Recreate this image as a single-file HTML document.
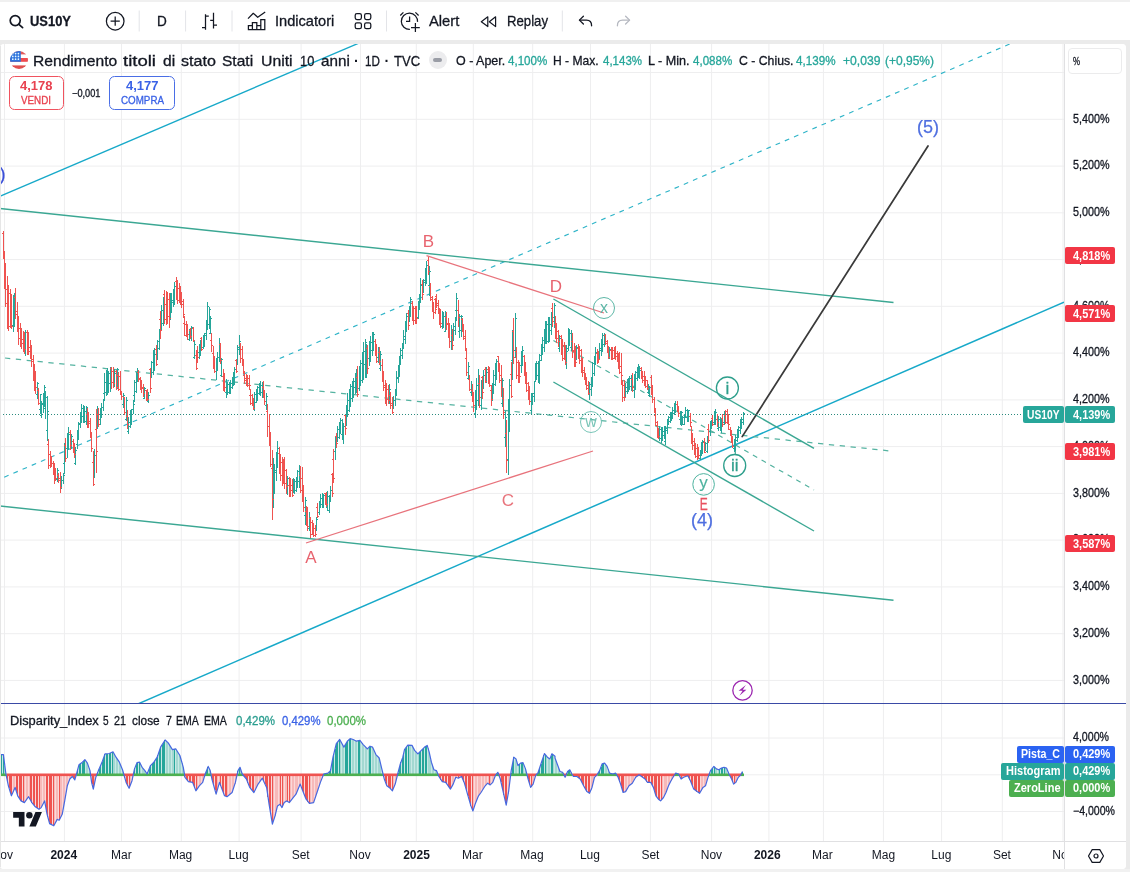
<!DOCTYPE html>
<html lang="it">
<head>
<meta charset="utf-8">
<title>US10Y - Rendimento titoli di stato Stati Uniti 10 anni</title>
<style>
*{box-sizing:border-box;margin:0;padding:0}
html,body{width:1130px;height:872px;overflow:hidden;background:#ebebeb;font-family:"Liberation Sans","DejaVu Sans",sans-serif;color:#131722}
.toolbar{position:absolute;left:0;top:2px;width:1130px;height:38px;background:#fff}
.toolbar .t{position:absolute;top:0;height:38px;line-height:39px;font-size:14.5px;white-space:nowrap;color:#131722;-webkit-text-stroke:0.3px}
.toolbar .sep{position:absolute;top:9px;width:1px;height:21px;background:#e3e4e8}
.toolbar svg{position:absolute}
.chart{position:absolute;left:0;top:43.5px;width:1126px;height:825.8px;background:#fff;border-radius:4px;overflow:hidden}
.tstrip{position:absolute;left:0;top:0;width:1130px;height:2px;background:#f0f0f0}
.lstrip{position:absolute;left:0;top:46px;width:0.9px;height:821px;background:#e6e6e6}
.bstrip{position:absolute;left:0;top:869.3px;width:1130px;height:2.7px;background:#f1f1f1}
.cv{position:absolute;left:0;top:0.5px}
.pscale{position:absolute;left:1064px;top:0;width:62px;height:798px;border-left:1px solid #e0e3eb;background:#fff}
.plab{position:absolute;left:1073px;font-size:12px;line-height:14px;white-space:nowrap;color:#131722;letter-spacing:-0.1px}
.ptag{position:absolute;height:16px;line-height:16px;font-size:12px;font-weight:bold;color:#fff;white-space:nowrap;border-radius:2px;text-align:center;letter-spacing:-0.2px}
.taxis{position:absolute;left:0;top:797.5px;width:1126px;height:28px;border-top:1px solid #e0e3eb;background:#fff}
.tl{position:absolute;top:6px;font-size:12px;line-height:14px;white-space:nowrap;transform:translateX(-50%);color:#131722}
.tl.b{font-weight:bold}
.legend{position:absolute;white-space:nowrap}
.lg{position:absolute;white-space:nowrap;font-size:13px;line-height:16px;top:8.5px}
.g{color:#26a69a}
.btn{position:absolute;top:32.5px;height:33.5px;border-radius:4px;text-align:center;background:#fff}
.btn b{display:block;font-size:13.5px;line-height:15px;margin-top:2.5px}
.btn span{display:block;font-size:10.5px;line-height:12px;letter-spacing:0.1px}
</style>
</head>
<body>
<div class="toolbar">
<svg style="left:0;top:0" width="1130" height="38" viewBox="0 2 1130 38" fill="none" stroke="#131722" stroke-width="1.25">
<g stroke-width="1.7"><circle cx="15.2" cy="20.6" r="5"/><path d="M18.9 24.3L22.6 27.7" stroke-linecap="round"/></g>
<circle cx="115.2" cy="21.2" r="8.8"/><path d="M115.2 16.6V25.8M110.6 21.2H119.8"/>
<path d="M205.5 14.2V29.7M205.5 16H208.8M202 27.5H205.5M213.5 12.8V28.6M210.2 20.4H213.5M213.5 25.2H217"/>
<path d="M248 18.6L253.3 13.3L257.7 17.3L265.2 12" stroke-linejoin="round"/>
<path d="M248.4 29.7V25.5H252.4V29.7M252.4 25.5V22.6H256.8V29.7M256.8 25.5H260.8V29.7M260.8 25.5V19.5H264.8V29.7M247.8 29.7H265.4"/>
<rect x="355.2" y="13.6" width="6.2" height="5.9" rx="1.7"/><rect x="364.6" y="13.6" width="6.2" height="5.9" rx="1.7"/><rect x="355.2" y="22.8" width="6.2" height="5.9" rx="1.7"/><rect x="364.6" y="22.8" width="6.2" height="5.9" rx="1.7"/>
<path d="M417.5 21.9A8.1 8.1 0 1 0 409.9 29.4"/><path d="M409.6 16.4V21.3H406"/><path d="M400.3 15.5L403.4 12.4M415.4 12.4L418.6 15.5"/><path d="M415.4 23.1V31.9M411 27.5H419.8"/>
<g stroke-linejoin="round" stroke-width="1.2"><path d="M487.8 16.8V26.6L481.3 21.7Z"/><path d="M495.6 16.8V26.6L489.3 21.7Z"/></g>
<g stroke-linecap="round" stroke-linejoin="round" stroke-width="1.3"><path d="M583.4 16.2L579.4 20.1L583.4 24"/><path d="M579.8 20.1H586.5Q591.6 20.1 591.6 25.8"/></g>
<g stroke-linecap="round" stroke-linejoin="round" stroke-width="1.3" stroke="#b5b8c0"><path d="M625.6 16.2L629.6 20.1L625.6 24"/><path d="M629.2 20.1H622.5Q617.4 20.1 617.4 25.8"/></g>
<g stroke="#e3e4e8" stroke-width="1"><path d="M139.2 10.5V31.5M185.6 10.5V31.5M232 10.5V31.5M386.5 10.5V31.5M562.3 10.5V31.5"/></g>
</svg>
<span class="t tx" style="left:29.7px;font-weight:bold;font-size:14.5px;transform-origin:0 50%;transform:scaleX(0.8922)">US10Y</span>
<span class="t tx" style="left:157.3px;font-size:14.5px;transform-origin:0 50%;transform:scaleX(0.9347)">D</span>
<span class="t tx" style="left:274.5px;transform-origin:0 50%;transform:scaleX(1.0078)">Indicatori</span>
<span class="t tx" style="left:428.6px;transform-origin:0 50%;transform:scaleX(1.0158)">Alert</span>
<span class="t tx" style="left:507px;transform-origin:0 50%;transform:scaleX(0.9083)">Replay</span>
</div>

<div class="chart">
<svg class="cv" width="1064" height="798" viewBox="0 44 1064 798" font-family="'Liberation Sans', sans-serif">
<path d="M4.5 44V841M64.4 44V841M121.5 44V841M181.3 44V841M239.1 44V841M301.1 44V841M360.5 44V841M416.3 44V841M473.3 44V841M532.7 44V841M590.5 44V841M650.4 44V841M711.6 44V841M768.9 44V841M823.4 44V841M883.4 44V841M941.6 44V841M1002.3 44V841M1063.0 44V841M0 72.5H1064M0 119.3H1064M0 166.1H1064M0 212.8H1064M0 259.6H1064M0 306.3H1064M0 353.1H1064M0 399.9H1064M0 446.6H1064M0 493.4H1064M0 540.1H1064M0 586.9H1064M0 633.7H1064M0 680.4H1064M0 738.0H1064M0 774.8H1064M0 811.5H1064" stroke="#eeeeef" stroke-width="1" fill="none"/>
<g clip-path="url(#mainclip)">
<line x1="-5" y1="198.3" x2="365" y2="40.5" stroke="#17a9c9" stroke-width="1.35" /><line x1="130" y1="707.4" x2="1064" y2="302.2" stroke="#17a9c9" stroke-width="1.5" /><line x1="-5" y1="481.2" x2="1015" y2="41.7" stroke="#2fb4c8" stroke-width="1.15" stroke-dasharray="4.8 5.2" /><line x1="-5" y1="208" x2="893.5" y2="302.5" stroke="#3ba793" stroke-width="1.4" /><line x1="-5" y1="505.5" x2="893.5" y2="600.3" stroke="#3ba793" stroke-width="1.4" /><line x1="5" y1="358" x2="893.5" y2="451.3" stroke="#55b3a1" stroke-width="1.25" stroke-dasharray="5.3 5.6" /><line x1="306" y1="543" x2="593" y2="451" stroke="#e8737c" stroke-width="1.3" /><line x1="426.5" y1="255.6" x2="604" y2="313" stroke="#e8737c" stroke-width="1.3" /><line x1="553.4" y1="299" x2="814" y2="448.4" stroke="#3ba793" stroke-width="1.4" /><line x1="553.4" y1="382" x2="814" y2="531" stroke="#3ba793" stroke-width="1.4" /><line x1="553.4" y1="340.5" x2="814" y2="490" stroke="#4fb09d" stroke-width="1.15" stroke-dasharray="5 5" /><line x1="742.2" y1="436.6" x2="928" y2="146" stroke="#3a3a3a" stroke-width="1.75" stroke-linecap="round"/><line x1="0" y1="414.5" x2="1064" y2="414.5" stroke="#2b8a7e" stroke-width="1" stroke-dasharray="1 2" /><line x1="735.3" y1="445" x2="735.3" y2="455" stroke="#3ba793" stroke-width="1.2" />
<path d="M13.50 295.0V331.5M12.00 325.5H13.50M13.50 303.5H15.00M14.50 293.4V326.9M13.00 317.5H14.50M14.50 297.5H16.00M25.50 330.3V356.2M24.00 347.5H25.50M25.50 332.5H27.00M37.50 382.1V398.9M36.00 394.5H37.50M37.50 383.5H39.00M40.50 393.6V413.5M39.00 409.5H40.50M40.50 394.5H42.00M41.50 400.8V418.2M40.00 415.5H41.50M41.50 403.5H43.00M43.50 392.5V413.0M42.00 404.5H43.50M43.50 396.5H45.00M44.50 384.9V406.5M43.00 402.5H44.50M44.50 387.5H46.00M45.50 391.2V419.3M44.00 408.5H45.50M45.50 397.5H47.00M47.50 396.4V440.9M46.00 430.5H47.50M47.50 411.5H49.00M57.50 467.7V481.5M56.00 479.5H57.50M57.50 470.5H59.00M61.50 476.4V489.3M60.00 487.5H61.50M61.50 480.5H63.00M63.50 472.9V484.4M62.00 480.5H63.50M63.50 475.5H65.00M64.50 443.3V474.4M63.00 463.5H64.50M64.50 452.5H66.00M67.50 433.4V458.2M66.00 448.5H67.50M67.50 439.5H69.00M68.50 427.2V450.1M67.00 441.5H68.50M68.50 434.5H70.00M71.50 433.9V448.6M70.00 443.5H71.50M71.50 436.5H73.00M75.50 446.8V465.1M74.00 463.5H75.50M75.50 450.5H77.00M77.50 429.5V448.8M76.00 444.5H77.50M77.50 433.5H79.00M78.50 421.9V439.8M77.00 437.5H78.50M78.50 424.5H80.00M80.50 412.3V428.2M79.00 423.5H80.50M80.50 417.5H82.00M81.50 404.2V422.8M80.00 418.5H81.50M81.50 408.5H83.00M83.50 404.6V423.2M82.00 416.5H83.50M83.50 409.5H85.00M84.50 406.1V422.5M83.00 418.5H84.50M84.50 411.5H86.00M86.50 406.4V425.3M85.00 421.5H86.50M86.50 407.5H88.00M94.50 448.7V477.5M93.00 472.5H94.50M94.50 455.5H96.00M97.50 406.4V428.7M96.00 421.5H97.50M97.50 409.5H99.00M100.50 407.6V424.8M99.00 419.5H100.50M100.50 408.5H102.00M101.50 402.7V417.9M100.00 416.5H101.50M101.50 407.5H103.00M103.50 399.0V411.3M102.00 407.5H103.50M103.50 399.5H105.00M104.50 373.1V400.5M103.00 393.5H104.50M104.50 382.5H106.00M106.50 370.3V395.5M105.00 392.5H106.50M106.50 372.5H108.00M107.50 368.3V395.0M106.00 390.5H107.50M107.50 372.5H109.00M108.50 370.5V392.5M107.00 390.5H108.50M108.50 373.5H110.00M110.50 366.5V391.6M109.00 383.5H110.50M110.50 371.5H112.00M114.50 369.0V387.3M113.00 381.5H114.50M114.50 373.5H116.00M117.50 367.7V389.2M116.00 386.5H117.50M117.50 369.5H119.00M123.50 392.9V407.6M122.00 404.5H123.50M123.50 395.5H125.00M126.50 396.6V421.0M125.00 419.5H126.50M126.50 400.5H128.00M128.50 416.6V434.0M127.00 431.5H128.50M128.50 422.5H130.00M130.50 410.2V427.5M129.00 426.5H130.50M130.50 415.5H132.00M131.50 408.5V425.1M130.00 419.5H131.50M131.50 409.5H133.00M133.50 400.4V413.8M132.00 409.5H133.50M133.50 404.5H135.00M134.50 379.7V401.9M133.00 395.5H134.50M134.50 382.5H136.00M136.50 372.1V393.4M135.00 391.5H136.50M136.50 378.5H138.00M137.50 368.4V381.9M136.00 378.5H137.50M137.50 371.5H139.00M144.50 387.4V399.4M143.00 398.5H144.50M144.50 388.5H146.00M148.50 391.7V402.7M147.00 401.5H148.50M148.50 395.5H150.00M151.50 360.5V377.6M150.00 375.5H151.50M151.50 362.5H153.00M153.50 349.6V375.1M152.00 372.5H153.50M153.50 354.5H155.00M154.50 347.5V370.5M153.00 365.5H154.50M154.50 354.5H156.00M157.50 339.7V360.3M156.00 357.5H157.50M157.50 341.5H159.00M159.50 328.5V349.7M158.00 348.5H159.50M159.50 334.5H161.00M161.50 304.5V330.4M160.00 320.5H161.50M161.50 310.5H163.00M163.50 296.8V325.8M162.00 323.5H163.50M163.50 299.5H165.00M170.50 293.4V319.9M169.00 309.5H170.50M170.50 295.5H172.00M171.50 293.4V313.4M170.00 307.5H171.50M171.50 300.5H173.00M173.50 289.1V306.8M172.00 302.5H173.50M173.50 292.5H175.00M174.50 282.0V305.3M173.00 296.5H174.50M174.50 286.5H176.00M189.50 329.1V341.2M188.00 339.5H189.50M189.50 331.5H191.00M191.50 326.2V341.2M190.00 336.5H191.50M191.50 327.5H193.00M194.50 340.7V359.0M193.00 357.5H194.50M194.50 344.5H196.00M199.50 343.7V358.7M198.00 352.5H199.50M199.50 347.5H201.00M200.50 340.1V355.7M199.00 351.5H200.50M200.50 342.5H202.00M203.50 334.6V349.3M202.00 347.5H203.50M203.50 338.5H205.00M204.50 333.2V346.8M203.00 341.5H204.50M204.50 335.5H206.00M206.50 320.3V339.8M205.00 333.5H206.50M206.50 322.5H208.00M207.50 301.7V329.9M206.00 326.5H207.50M207.50 306.5H209.00M209.50 307.0V328.7M208.00 324.5H209.50M209.50 309.5H211.00M210.50 315.5V334.4M209.00 333.5H210.50M210.50 318.5H212.00M216.50 358.0V379.6M215.00 371.5H216.50M216.50 359.5H218.00M217.50 352.2V370.6M216.00 364.5H217.50M217.50 357.5H219.00M219.50 337.6V361.8M218.00 357.5H219.50M219.50 345.5H221.00M221.50 358.1V377.1M220.00 375.5H221.50M221.50 359.5H223.00M226.50 378.9V398.1M225.00 392.5H226.50M226.50 385.5H228.00M227.50 381.6V395.3M226.00 393.5H227.50M227.50 384.5H229.00M229.50 382.3V394.3M228.00 392.5H229.50M229.50 384.5H231.00M230.50 379.7V393.7M229.00 389.5H230.50M230.50 383.5H232.00M232.50 377.3V389.3M231.00 387.5H232.50M232.50 379.5H234.00M233.50 371.9V385.6M232.00 383.5H233.50M233.50 375.5H235.00M234.50 367.0V385.4M233.00 380.5H234.50M234.50 369.5H236.00M237.50 344.9V364.9M236.00 360.5H237.50M237.50 347.5H239.00M239.50 335.1V355.3M238.00 349.5H239.50M239.50 341.5H241.00M254.50 391.5V410.7M253.00 408.5H254.50M254.50 394.5H256.00M256.50 388.8V403.1M255.00 402.5H256.50M256.50 389.5H258.00M257.50 386.0V400.8M256.00 399.5H257.50M257.50 387.5H259.00M259.50 383.2V395.4M258.00 393.5H259.50M259.50 387.5H261.00M260.50 381.0V395.5M259.00 392.5H260.50M260.50 385.5H262.00M262.50 381.9V397.5M261.00 392.5H262.50M262.50 383.5H264.00M266.50 393.3V410.2M265.00 405.5H266.50M266.50 396.5H268.00M273.50 457.9V508.2M272.00 498.5H273.50M273.50 473.5H275.00M274.50 464.0V494.3M273.00 488.5H274.50M274.50 470.5H276.00M276.50 452.4V480.8M275.00 472.5H276.50M276.50 461.5H278.00M277.50 440.8V467.8M276.00 466.5H277.50M277.50 448.5H279.00M287.50 475.6V495.1M286.00 490.5H287.50M287.50 478.5H289.00M293.50 477.6V492.6M292.00 487.5H293.50M293.50 479.5H295.00M294.50 480.0V493.9M293.00 488.5H294.50M294.50 481.5H296.00M296.50 476.5V491.5M295.00 490.5H296.50M296.50 478.5H298.00M297.50 469.6V487.5M296.00 480.5H297.50M297.50 471.5H299.00M299.50 464.7V488.4M298.00 481.5H299.50M299.50 468.5H301.00M305.50 497.2V524.5M304.00 515.5H305.50M305.50 500.5H307.00M309.50 512.4V531.3M308.00 528.5H309.50M309.50 517.5H311.00M316.50 516.8V531.2M315.00 527.5H316.50M316.50 519.5H318.00M319.50 500.9V514.7M318.00 512.5H319.50M319.50 502.5H321.00M320.50 493.7V508.1M319.00 504.5H320.50M320.50 498.5H322.00M322.50 493.1V508.4M321.00 504.5H322.50M322.50 496.5H324.00M323.50 494.3V507.8M322.00 505.5H323.50M323.50 495.5H325.00M327.50 490.7V511.4M326.00 507.5H327.50M327.50 496.5H329.00M329.50 494.6V513.0M328.00 510.5H329.50M329.50 498.5H331.00M330.50 486.2V501.8M329.00 499.5H330.50M330.50 490.5H332.00M335.50 437.1V459.7M334.00 451.5H335.50M335.50 442.5H337.00M337.50 425.6V441.9M336.00 436.5H337.50M337.50 429.5H339.00M339.50 421.9V438.8M338.00 437.5H339.50M339.50 427.5H341.00M340.50 418.0V433.9M339.00 427.5H340.50M340.50 420.5H342.00M342.50 419.3V440.2M341.00 434.5H342.50M342.50 424.5H344.00M343.50 423.3V443.9M342.00 438.5H343.50M343.50 426.5H345.00M346.50 404.9V426.3M345.00 423.5H346.50M346.50 406.5H348.00M347.50 393.1V417.0M346.00 410.5H347.50M347.50 400.5H349.00M349.50 389.1V412.3M348.00 410.5H349.50M349.50 395.5H351.00M350.50 383.9V407.2M349.00 405.5H350.50M350.50 386.5H352.00M352.50 381.2V401.8M351.00 398.5H352.50M352.50 388.5H354.00M353.50 378.2V397.9M352.00 396.5H353.50M353.50 381.5H355.00M355.50 373.1V394.1M354.00 387.5H355.50M355.50 377.5H357.00M356.50 368.8V392.7M355.00 384.5H356.50M356.50 371.5H358.00M359.50 366.2V391.4M358.00 388.5H359.50M359.50 371.5H361.00M360.50 359.6V385.9M359.00 375.5H360.50M360.50 363.5H362.00M362.50 351.9V383.0M361.00 380.5H362.50M362.50 359.5H364.00M363.50 342.1V379.7M362.00 367.5H363.50M363.50 351.5H365.00M365.50 339.3V378.4M364.00 364.5H365.50M365.50 342.5H367.00M366.50 344.3V378.4M365.00 373.5H366.50M366.50 355.5H368.00M369.50 340.7V365.5M368.00 358.5H369.50M369.50 344.5H371.00M370.50 335.6V362.4M369.00 354.5H370.50M370.50 342.5H372.00M372.50 332.3V356.2M371.00 350.5H372.50M372.50 334.5H374.00M373.50 331.5V351.0M372.00 348.5H373.50M373.50 334.5H375.00M378.50 347.2V363.2M377.00 357.5H378.50M378.50 348.5H380.00M380.50 351.3V370.8M379.00 368.5H380.50M380.50 354.5H382.00M389.50 383.7V404.3M388.00 400.5H389.50M389.50 389.5H391.00M393.50 395.8V409.3M392.00 406.5H393.50M393.50 400.5H395.00M395.50 388.9V405.7M394.00 400.5H395.50M395.50 394.5H397.00M396.50 371.3V396.1M395.00 390.5H396.50M396.50 377.5H398.00M398.50 365.2V383.0M397.00 378.5H398.50M398.50 368.5H400.00M399.50 355.5V376.6M398.00 372.5H399.50M399.50 361.5H401.00M400.50 348.0V364.8M399.00 363.5H400.50M400.50 350.5H402.00M402.50 344.0V358.8M401.00 355.5H402.50M402.50 347.5H404.00M403.50 329.9V348.9M402.00 343.5H403.50M403.50 336.5H405.00M405.50 320.7V343.7M404.00 339.5H405.50M405.50 323.5H407.00M406.50 312.7V332.3M405.00 326.5H406.50M406.50 316.5H408.00M409.50 305.5V321.5M408.00 319.5H409.50M409.50 308.5H411.00M410.50 297.4V316.7M409.00 309.5H410.50M410.50 299.5H412.00M418.50 301.1V318.5M417.00 317.5H418.50M418.50 302.5H420.00M419.50 293.5V310.3M418.00 308.5H419.50M419.50 295.5H421.00M420.50 277.6V302.6M419.00 300.5H420.50M420.50 285.5H422.00M423.50 278.5V293.2M422.00 288.5H423.50M423.50 280.5H425.00M425.50 268.1V286.3M424.00 282.5H425.50M425.50 273.5H427.00M426.50 261.4V283.6M425.00 281.5H426.50M426.50 265.5H428.00M429.50 266.0V295.5M428.00 285.5H429.50M429.50 271.5H431.00M442.50 311.2V329.0M441.00 326.5H442.50M442.50 315.5H444.00M443.50 311.5V328.1M442.00 323.5H443.50M443.50 316.5H445.00M445.50 311.2V332.3M444.00 331.5H445.50M445.50 313.5H447.00M451.50 324.5V349.9M450.00 341.5H451.50M451.50 332.5H453.00M453.50 323.2V341.3M452.00 338.5H453.50M453.50 326.5H455.00M455.50 317.0V334.6M454.00 330.5H455.50M455.50 318.5H457.00M456.50 293.0V321.0M455.00 310.5H456.50M456.50 298.5H458.00M459.50 314.0V337.8M458.00 331.5H459.50M459.50 316.5H461.00M461.50 314.5V336.7M460.00 330.5H461.50M461.50 316.5H463.00M468.50 362.1V379.8M467.00 378.5H468.50M468.50 366.5H470.00M471.50 381.4V395.5M470.00 392.5H471.50M471.50 384.5H473.00M475.50 390.0V417.5M474.00 413.5H475.50M475.50 391.5H477.00M476.50 377.9V409.9M475.00 404.5H476.50M476.50 385.5H478.00M478.50 369.3V406.2M477.00 400.5H478.50M478.50 375.5H480.00M481.50 380.2V409.6M480.00 405.5H481.50M481.50 385.5H483.00M483.50 370.0V388.6M482.00 385.5H483.50M483.50 375.5H485.00M486.50 367.2V383.0M485.00 378.5H486.50M486.50 372.5H488.00M492.50 383.3V401.2M491.00 396.5H492.50M492.50 385.5H494.00M493.50 370.4V394.4M492.00 390.5H493.50M493.50 375.5H495.00M495.50 362.9V385.5M494.00 384.5H495.50M495.50 370.5H497.00M496.50 359.0V380.0M495.00 373.5H496.50M496.50 361.5H498.00M502.50 377.6V407.0M501.00 403.5H502.50M502.50 380.5H504.00M505.50 411.3V446.8M504.00 437.5H505.50M505.50 417.5H507.00M508.50 399.3V475.2M507.00 459.5H508.50M508.50 406.5H510.00M509.50 378.6V432.4M508.00 429.5H509.50M509.50 385.5H511.00M512.50 330.3V379.8M511.00 360.5H512.50M512.50 333.5H514.00M515.50 313.1V358.3M514.00 350.5H515.50M515.50 318.5H517.00M521.50 351.3V373.3M520.00 365.5H521.50M521.50 357.5H523.00M522.50 346.4V365.8M521.00 359.5H522.50M522.50 350.5H524.00M531.50 392.7V414.0M530.00 410.5H531.50M531.50 400.5H533.00M532.50 393.2V405.0M531.00 403.5H532.50M532.50 396.5H534.00M534.50 380.7V401.5M533.00 393.5H534.50M534.50 381.5H536.00M535.50 362.5V382.2M534.00 381.5H535.50M535.50 368.5H537.00M536.50 360.9V380.4M535.00 373.5H536.50M536.50 363.5H538.00M538.50 360.5V382.5M537.00 375.5H538.50M538.50 366.5H540.00M539.50 354.3V383.8M538.00 376.5H539.50M539.50 360.5H541.00M541.50 344.0V360.8M540.00 355.5H541.50M541.50 348.5H543.00M542.50 337.2V354.5M541.00 349.5H542.50M542.50 340.5H544.00M544.50 329.0V351.8M543.00 347.5H544.50M544.50 335.5H546.00M545.50 321.1V343.7M544.00 335.5H545.50M545.50 325.5H547.00M546.50 320.5V343.6M545.00 335.5H546.50M546.50 324.5H548.00M548.50 317.1V342.8M547.00 341.5H548.50M548.50 322.5H550.00M549.50 317.1V341.7M548.00 334.5H549.50M549.50 324.5H551.00M551.50 311.7V335.0M550.00 330.5H551.50M551.50 318.5H553.00M554.50 302.7V327.5M553.00 317.5H554.50M554.50 305.5H556.00M559.50 334.6V351.9M558.00 348.5H559.50M559.50 338.5H561.00M566.50 344.7V368.5M565.00 359.5H566.50M566.50 351.5H568.00M568.50 328.0V350.5M567.00 348.5H568.50M568.50 332.5H570.00M569.50 329.3V346.0M568.00 342.5H569.50M569.50 333.5H571.00M571.50 330.3V351.4M570.00 347.5H571.50M571.50 334.5H573.00M576.50 345.0V360.3M575.00 356.5H576.50M576.50 347.5H578.00M589.50 382.3V400.2M588.00 393.5H589.50M589.50 384.5H591.00M591.50 376.6V396.1M590.00 389.5H591.50M591.50 380.5H593.00M592.50 361.7V386.8M591.00 379.5H592.50M592.50 363.5H594.00M594.50 355.9V375.5M593.00 373.5H594.50M594.50 358.5H596.00M595.50 347.0V364.8M594.00 358.5H595.50M595.50 352.5H597.00M599.50 343.2V359.5M598.00 355.5H599.50M599.50 348.5H601.00M601.50 339.2V356.1M600.00 350.5H601.50M601.50 343.5H603.00M602.50 333.3V352.1M601.00 346.5H602.50M602.50 335.5H604.00M604.50 332.9V346.8M603.00 344.5H604.50M604.50 336.5H606.00M609.50 346.8V359.0M608.00 358.5H609.50M609.50 349.5H611.00M625.50 382.9V397.5M624.00 394.5H625.50M625.50 387.5H627.00M627.50 378.8V394.1M626.00 391.5H627.50M627.50 383.5H629.00M628.50 377.6V391.5M627.00 388.5H628.50M628.50 380.5H630.00M629.50 375.5V390.2M628.00 384.5H629.50M629.50 378.5H631.00M631.50 375.1V391.4M630.00 386.5H631.50M631.50 376.5H633.00M634.50 374.0V397.8M633.00 390.5H634.50M634.50 377.5H636.00M635.50 371.4V390.2M634.00 387.5H635.50M635.50 372.5H637.00M637.50 367.1V381.1M636.00 378.5H637.50M637.50 369.5H639.00M638.50 364.3V377.8M637.00 372.5H638.50M638.50 366.5H640.00M639.50 366.7V379.2M638.00 374.5H639.50M639.50 370.5H641.00M648.50 383.6V393.9M647.00 392.5H648.50M648.50 386.5H650.00M649.50 385.7V397.4M648.00 395.5H649.50M649.50 387.5H651.00M659.50 425.9V440.8M658.00 437.5H659.50M659.50 429.5H661.00M661.50 427.0V443.0M660.00 438.5H661.50M661.50 430.5H663.00M662.50 426.9V440.6M661.00 439.5H662.50M662.50 431.5H664.00M664.50 426.4V438.6M663.00 435.5H664.50M664.50 428.5H666.00M665.50 426.0V445.0M664.00 441.5H665.50M665.50 428.5H667.00M667.50 418.9V433.5M666.00 430.5H667.50M667.50 423.5H669.00M668.50 415.9V425.2M667.00 424.5H668.50M668.50 417.5H670.00M670.50 411.6V423.3M669.00 421.5H670.50M670.50 413.5H672.00M671.50 411.6V421.3M670.00 417.5H671.50M671.50 413.5H673.00M672.50 407.1V418.5M671.00 414.5H672.50M672.50 410.5H674.00M674.50 402.7V414.5M673.00 413.5H674.50M674.50 403.5H676.00M675.50 401.4V413.1M674.00 411.5H675.50M675.50 404.5H677.00M680.50 411.1V424.6M679.00 419.5H680.50M680.50 414.5H682.00M681.50 411.1V425.6M680.00 420.5H681.50M681.50 412.5H683.00M682.50 416.0V425.1M681.00 422.5H682.50M682.50 417.5H684.00M684.50 414.2V425.0M683.00 424.5H684.50M684.50 417.5H686.00M685.50 406.6V418.3M684.00 414.5H685.50M685.50 410.5H687.00M687.50 408.9V421.7M686.00 417.5H687.50M687.50 411.5H689.00M688.50 410.2V422.4M687.00 418.5H688.50M688.50 410.5H690.00M700.50 450.0V460.0M699.00 458.5H700.50M700.50 451.5H702.00M701.50 442.1V455.8M700.00 451.5H701.50M701.50 444.5H703.00M702.50 440.4V453.7M701.00 451.5H702.50M702.50 441.5H704.00M705.50 442.3V450.5M704.00 449.5H705.50M705.50 443.5H707.00M707.50 436.1V452.6M706.00 451.5H707.50M707.50 441.5H709.00M710.50 420.8V436.1M709.00 431.5H710.50M710.50 425.5H712.00M711.50 419.5V428.6M710.00 425.5H711.50M711.50 422.5H713.00M714.50 410.6V424.8M713.00 422.5H714.50M714.50 413.5H716.00M715.50 409.1V425.4M714.00 424.5H715.50M715.50 412.5H717.00M718.50 416.3V430.6M717.00 428.5H718.50M718.50 419.5H720.00M720.50 417.0V430.3M719.00 427.5H720.50M720.50 421.5H722.00M721.50 418.6V432.5M720.00 430.5H721.50M721.50 422.5H723.00M724.50 410.8V425.4M723.00 422.5H724.50M724.50 412.5H726.00M734.50 439.2V452.0M733.00 448.5H734.50M734.50 441.5H736.00M735.50 434.5V450.6M734.00 446.5H735.50M735.50 437.5H737.00M737.50 429.4V441.6M736.00 440.5H737.50M737.50 430.5H739.00M738.50 425.7V437.5M737.00 433.5H738.50M738.50 427.5H740.00M740.50 419.2V433.6M739.00 430.5H740.50M740.50 422.5H742.00M741.50 416.8V428.7M740.00 425.5H741.50M741.50 419.5H743.00M743.50 412.1V424.9M742.00 422.5H743.50M743.50 413.5H745.00" stroke="#26a69a" stroke-width="1" shape-rendering="crispEdges" fill="none"/><path d="M3.50 231.4V259.1M2.00 233.5H3.50M3.50 253.5H5.00M4.50 250.9V288.5M3.00 253.5H4.50M4.50 281.5H6.00M5.50 263.2V307.1M4.00 278.5H5.50M5.50 303.5H7.00M7.50 275.9V329.2M6.00 289.5H7.50M7.50 320.5H9.00M8.50 284.9V331.0M7.00 291.5H8.50M8.50 326.5H10.00M10.50 289.2V327.7M9.00 293.5H10.50M10.50 319.5H12.00M11.50 294.4V329.0M10.00 296.5H11.50M11.50 326.5H13.00M15.50 287.9V318.9M14.00 297.5H15.50M15.50 314.5H17.00M17.50 302.4V332.4M16.00 311.5H17.50M17.50 329.5H19.00M18.50 315.5V344.8M17.00 324.5H18.50M18.50 338.5H20.00M20.50 322.6V346.6M19.00 328.5H20.50M20.50 341.5H22.00M21.50 327.6V348.8M20.00 332.5H21.50M21.50 343.5H23.00M23.50 330.8V352.3M22.00 339.5H23.50M23.50 345.5H25.00M24.50 331.5V354.1M23.00 332.5H24.50M24.50 349.5H26.00M27.50 330.3V355.0M26.00 332.5H27.50M27.50 350.5H29.00M28.50 331.6V354.6M27.00 339.5H28.50M28.50 351.5H30.00M30.50 340.3V359.1M29.00 347.5H30.50M30.50 357.5H32.00M31.50 345.2V366.7M30.00 349.5H31.50M31.50 361.5H33.00M33.50 355.2V381.3M32.00 359.5H33.50M33.50 375.5H35.00M34.50 363.7V391.4M33.00 371.5H34.50M34.50 384.5H36.00M35.50 370.6V393.8M34.00 378.5H35.50M35.50 387.5H37.00M38.50 388.1V404.8M37.00 390.5H38.50M38.50 403.5H40.00M48.50 439.4V468.5M47.00 444.5H48.50M48.50 465.5H50.00M50.50 451.2V468.2M49.00 454.5H50.50M50.50 466.5H52.00M51.50 456.2V466.3M50.00 459.5H51.50M51.50 463.5H53.00M53.50 461.0V475.0M52.00 463.5H53.50M53.50 474.5H55.00M54.50 463.0V484.4M53.00 469.5H54.50M54.50 477.5H56.00M55.50 467.6V481.1M54.00 472.5H55.50M55.50 478.5H57.00M58.50 472.6V483.4M57.00 475.5H58.50M58.50 480.5H60.00M60.50 472.4V492.7M59.00 478.5H60.50M60.50 487.5H62.00M65.50 438.4V462.2M64.00 445.5H65.50M65.50 458.5H67.00M70.50 430.4V449.6M69.00 432.5H70.50M70.50 445.5H72.00M73.50 438.5V453.4M72.00 441.5H73.50M73.50 448.5H75.00M74.50 443.3V457.5M73.00 444.5H74.50M74.50 454.5H76.00M87.50 408.0V428.0M86.00 414.5H87.50M87.50 421.5H89.00M88.50 412.3V428.1M87.00 413.5H88.50M88.50 423.5H90.00M90.50 418.0V437.5M89.00 421.5H90.50M90.50 433.5H92.00M91.50 432.0V452.4M90.00 436.5H91.50M91.50 448.5H93.00M93.50 451.4V486.4M92.00 462.5H93.50M93.50 484.5H95.00M96.50 408.8V473.4M95.00 429.5H96.50M96.50 451.5H98.00M98.50 407.5V427.0M97.00 414.5H98.50M98.50 424.5H100.00M111.50 366.9V389.2M110.00 368.5H111.50M111.50 382.5H113.00M113.50 367.4V388.0M112.00 371.5H113.50M113.50 383.5H115.00M116.50 369.9V389.5M115.00 371.5H116.50M116.50 387.5H118.00M118.50 372.4V391.4M117.00 375.5H118.50M118.50 389.5H120.00M120.50 371.4V394.6M119.00 376.5H120.50M120.50 391.5H122.00M121.50 391.1V399.8M120.00 392.5H121.50M121.50 396.5H123.00M124.50 397.0V414.7M123.00 397.5H124.50M124.50 412.5H126.00M127.50 410.4V429.2M126.00 416.5H127.50M127.50 424.5H129.00M138.50 369.5V382.1M137.00 372.5H138.50M138.50 379.5H140.00M140.50 377.0V390.2M139.00 378.5H140.50M140.50 389.5H142.00M141.50 379.7V392.8M140.00 383.5H141.50M141.50 388.5H143.00M143.50 384.0V397.0M142.00 387.5H143.50M143.50 393.5H145.00M146.50 389.5V401.4M145.00 390.5H146.50M146.50 400.5H148.00M147.50 389.4V401.1M146.00 392.5H147.50M147.50 399.5H149.00M150.50 368.2V393.2M149.00 369.5H150.50M150.50 388.5H152.00M156.50 345.3V365.8M155.00 349.5H156.50M156.50 364.5H158.00M160.50 310.9V339.2M159.00 319.5H160.50M160.50 330.5H162.00M164.50 290.2V323.5M163.00 294.5H164.50M164.50 319.5H166.00M166.50 291.1V325.0M165.00 304.5H166.50M166.50 314.5H168.00M167.50 291.8V323.9M166.00 303.5H167.50M167.50 316.5H169.00M169.50 292.5V327.7M168.00 299.5H169.50M169.50 318.5H171.00M176.50 276.6V299.5M175.00 281.5H176.50M176.50 297.5H178.00M177.50 279.5V303.9M176.00 281.5H177.50M177.50 300.5H179.00M179.50 282.7V302.8M178.00 288.5H179.50M179.50 299.5H181.00M180.50 286.3V304.8M179.00 289.5H180.50M180.50 303.5H182.00M181.50 292.1V307.8M180.00 295.5H181.50M181.50 304.5H183.00M183.50 299.4V317.9M182.00 301.5H183.50M183.50 314.5H185.00M184.50 316.4V336.2M183.00 323.5H184.50M184.50 335.5H186.00M186.50 321.0V337.3M185.00 324.5H186.50M186.50 333.5H188.00M187.50 323.8V339.8M186.00 329.5H187.50M187.50 334.5H189.00M190.50 327.6V339.4M189.00 330.5H190.50M190.50 336.5H192.00M193.50 327.0V342.2M192.00 328.5H193.50M193.50 340.5H195.00M196.50 350.7V369.8M195.00 355.5H196.50M196.50 368.5H198.00M197.50 346.0V362.6M196.00 350.5H197.50M197.50 357.5H199.00M201.50 337.1V350.6M200.00 338.5H201.50M201.50 349.5H203.00M211.50 332.9V351.7M210.00 340.5H211.50M211.50 345.5H213.00M213.50 346.1V368.5M212.00 353.5H213.50M213.50 367.5H215.00M214.50 355.6V373.3M213.00 358.5H214.50M214.50 371.5H216.00M220.50 343.2V364.3M219.00 344.5H220.50M220.50 360.5H222.00M223.50 368.5V391.4M222.00 376.5H223.50M223.50 387.5H225.00M224.50 373.1V392.4M223.00 375.5H224.50M224.50 387.5H226.00M236.50 358.7V372.5M235.00 360.5H236.50M236.50 371.5H238.00M240.50 342.8V362.6M239.00 345.5H240.50M240.50 358.5H242.00M242.50 346.3V366.1M241.00 349.5H242.50M242.50 363.5H244.00M243.50 358.6V373.7M242.00 361.5H243.50M243.50 371.5H245.00M244.50 371.9V383.7M243.00 375.5H244.50M244.50 380.5H246.00M246.50 373.9V386.2M245.00 378.5H246.50M246.50 382.5H248.00M247.50 374.6V387.3M246.00 375.5H247.50M247.50 385.5H249.00M249.50 375.4V390.4M248.00 378.5H249.50M249.50 385.5H251.00M250.50 388.9V405.0M249.00 395.5H250.50M250.50 403.5H252.00M252.50 393.6V405.6M251.00 395.5H252.50M252.50 404.5H254.00M253.50 398.0V409.9M252.00 401.5H253.50M253.50 408.5H255.00M263.50 381.3V398.4M262.00 387.5H263.50M263.50 395.5H265.00M264.50 389.5V404.6M263.00 390.5H264.50M264.50 401.5H266.00M267.50 403.6V437.0M266.00 411.5H267.50M267.50 426.5H269.00M269.50 414.4V446.2M268.00 426.5H269.50M269.50 442.5H271.00M270.50 431.8V466.9M269.00 439.5H270.50M270.50 464.5H272.00M272.50 450.4V519.9M271.00 468.5H272.50M272.50 499.5H274.00M279.50 446.8V473.5M278.00 453.5H279.50M279.50 469.5H281.00M280.50 453.9V480.8M279.00 461.5H280.50M280.50 475.5H282.00M282.50 456.5V485.5M281.00 462.5H282.50M282.50 481.5H284.00M283.50 458.8V484.1M282.00 461.5H283.50M283.50 479.5H285.00M284.50 457.4V489.1M283.00 460.5H284.50M284.50 483.5H286.00M286.50 468.7V493.6M285.00 470.5H286.50M286.50 486.5H288.00M289.50 477.1V497.3M288.00 485.5H289.50M289.50 491.5H291.00M290.50 478.1V497.1M289.00 482.5H290.50M290.50 490.5H292.00M292.50 478.5V497.2M291.00 485.5H292.50M292.50 495.5H294.00M300.50 466.0V492.8M299.00 475.5H300.50M300.50 490.5H302.00M302.50 467.0V501.9M301.00 478.5H302.50M302.50 497.5H304.00M303.50 485.1V512.4M302.00 493.5H303.50M303.50 507.5H305.00M306.50 505.6V526.1M305.00 511.5H306.50M306.50 523.5H308.00M307.50 506.9V531.3M306.00 513.5H307.50M307.50 526.5H309.00M310.50 516.6V538.3M309.00 518.5H310.50M310.50 534.5H312.00M312.50 520.3V535.3M311.00 522.5H312.50M312.50 531.5H314.00M313.50 522.8V536.9M312.00 524.5H313.50M313.50 535.5H315.00M315.50 524.9V537.0M314.00 528.5H315.50M315.50 534.5H317.00M317.50 502.9V518.3M316.00 507.5H317.50M317.50 516.5H319.00M325.50 493.2V504.6M324.00 493.5H325.50M325.50 501.5H327.00M326.50 492.1V506.7M325.00 495.5H326.50M326.50 504.5H328.00M332.50 473.4V496.7M331.00 474.5H332.50M332.50 493.5H334.00M333.50 449.4V483.1M332.00 459.5H333.50M333.50 478.5H335.00M336.50 433.3V447.8M335.00 436.5H336.50M336.50 443.5H338.00M345.50 414.5V435.1M344.00 415.5H345.50M345.50 428.5H347.00M357.50 365.8V396.5M356.00 377.5H357.50M357.50 394.5H359.00M367.50 344.5V374.2M366.00 348.5H367.50M367.50 368.5H369.00M375.50 339.2V356.4M374.00 341.5H375.50M375.50 354.5H377.00M376.50 344.4V363.1M375.00 347.5H376.50M376.50 361.5H378.00M379.50 346.6V364.6M378.00 352.5H379.50M379.50 361.5H381.00M382.50 359.0V381.9M381.00 365.5H382.50M382.50 377.5H384.00M383.50 370.9V391.0M382.00 376.5H383.50M383.50 387.5H385.00M385.50 379.5V403.7M384.00 385.5H385.50M385.50 397.5H387.00M386.50 382.6V405.8M385.00 390.5H386.50M386.50 399.5H388.00M388.50 384.6V403.7M387.00 389.5H388.50M388.50 400.5H390.00M390.50 392.1V408.5M389.00 395.5H390.50M390.50 405.5H392.00M392.50 397.3V414.4M391.00 403.5H392.50M392.50 412.5H394.00M408.50 309.8V330.0M407.00 313.5H408.50M408.50 325.5H410.00M412.50 301.3V321.4M411.00 303.5H412.50M412.50 320.5H414.00M413.50 305.7V324.6M412.00 308.5H413.50M413.50 320.5H415.00M415.50 305.5V324.3M414.00 308.5H415.50M415.50 318.5H417.00M416.50 305.7V324.0M415.00 312.5H416.50M416.50 318.5H418.00M422.50 279.5V299.8M421.00 284.5H422.50M422.50 294.5H424.00M428.50 256.7V274.8M427.00 260.5H428.50M428.50 271.5H430.00M430.50 283.0V300.7M429.00 286.5H430.50M430.50 297.5H432.00M432.50 295.6V311.6M431.00 299.5H432.50M432.50 310.5H434.00M433.50 301.5V318.5M432.00 304.5H433.50M433.50 312.5H435.00M435.50 298.3V314.0M434.00 299.5H435.50M435.50 309.5H437.00M436.50 294.4V307.7M435.00 296.5H436.50M436.50 305.5H438.00M438.50 300.3V313.9M437.00 303.5H438.50M438.50 311.5H440.00M439.50 307.6V325.4M438.00 313.5H439.50M439.50 322.5H441.00M440.50 309.3V328.3M439.00 316.5H440.50M440.50 323.5H442.00M446.50 311.7V330.2M445.00 317.5H446.50M446.50 324.5H448.00M448.50 317.6V338.3M447.00 323.5H448.50M448.50 333.5H450.00M449.50 323.2V348.3M448.00 328.5H449.50M449.50 341.5H451.00M452.50 329.1V349.8M451.00 335.5H452.50M452.50 345.5H454.00M458.50 300.3V326.8M457.00 310.5H458.50M458.50 317.5H460.00M462.50 318.3V332.1M461.00 319.5H462.50M462.50 331.5H464.00M463.50 323.6V339.6M462.00 325.5H463.50M463.50 338.5H465.00M465.50 330.1V350.6M464.00 336.5H465.50M465.50 349.5H467.00M466.50 347.9V376.1M465.00 358.5H466.50M466.50 372.5H468.00M469.50 375.0V390.7M468.00 379.5H469.50M469.50 389.5H471.00M472.50 384.1V402.0M471.00 390.5H472.50M472.50 399.5H474.00M473.50 391.6V411.5M472.00 395.5H473.50M473.50 405.5H475.00M479.50 375.4V407.5M478.00 383.5H479.50M479.50 397.5H481.00M482.50 375.8V399.1M481.00 377.5H482.50M482.50 392.5H484.00M485.50 367.0V383.0M484.00 369.5H485.50M485.50 381.5H487.00M488.50 366.3V383.6M487.00 369.5H488.50M488.50 381.5H490.00M489.50 367.1V386.5M488.00 371.5H489.50M489.50 385.5H491.00M491.50 385.3V406.0M490.00 390.5H491.50M491.50 399.5H493.00M498.50 355.8V372.3M497.00 356.5H498.50M498.50 371.5H500.00M499.50 363.0V383.2M498.00 368.5H499.50M499.50 380.5H501.00M501.50 364.8V396.9M500.00 375.5H501.50M501.50 387.5H503.00M503.50 387.9V418.5M502.00 398.5H503.50M503.50 412.5H505.00M506.50 419.8V473.3M505.00 433.5H506.50M506.50 460.5H508.00M511.50 362.3V398.4M510.00 374.5H511.50M511.50 396.5H513.00M513.50 318.4V363.9M512.00 331.5H513.50M513.50 357.5H515.00M516.50 347.4V378.5M515.00 351.5H516.50M516.50 375.5H518.00M518.50 360.0V383.0M517.00 362.5H518.50M518.50 381.5H520.00M519.50 361.7V383.1M518.00 369.5H519.50M519.50 376.5H521.00M524.50 354.9V375.9M523.00 356.5H524.50M524.50 370.5H526.00M525.50 362.2V384.2M524.00 365.5H525.50M525.50 380.5H527.00M526.50 371.5V392.1M525.00 374.5H526.50M526.50 390.5H528.00M528.50 382.1V400.1M527.00 383.5H528.50M528.50 393.5H530.00M529.50 386.4V405.2M528.00 388.5H529.50M529.50 401.5H531.00M552.50 302.7V326.8M551.00 308.5H552.50M552.50 321.5H554.00M555.50 316.4V339.3M554.00 324.5H555.50M555.50 337.5H557.00M556.50 322.7V342.8M555.00 323.5H556.50M556.50 338.5H558.00M558.50 330.3V346.7M557.00 331.5H558.50M558.50 341.5H560.00M561.50 334.7V355.2M560.00 336.5H561.50M561.50 350.5H563.00M562.50 338.7V360.5M561.00 345.5H562.50M562.50 358.5H564.00M564.50 341.7V360.0M563.00 345.5H564.50M564.50 354.5H566.00M565.50 344.9V365.1M564.00 351.5H565.50M565.50 362.5H567.00M572.50 333.3V358.4M571.00 341.5H572.50M572.50 350.5H574.00M574.50 343.3V367.0M573.00 351.5H574.50M574.50 365.5H576.00M575.50 345.9V366.5M574.00 348.5H575.50M575.50 362.5H577.00M578.50 344.1V358.6M577.00 348.5H578.50M578.50 357.5H580.00M579.50 346.4V363.5M578.00 348.5H579.50M579.50 360.5H581.00M581.50 348.6V372.7M580.00 350.5H581.50M581.50 369.5H583.00M582.50 357.7V376.6M581.00 359.5H582.50M582.50 372.5H584.00M584.50 367.1V379.9M583.00 370.5H584.50M584.50 378.5H586.00M585.50 372.5V384.6M584.00 375.5H585.50M585.50 382.5H587.00M586.50 376.7V390.4M585.00 379.5H586.50M586.50 388.5H588.00M588.50 380.5V395.3M587.00 385.5H588.50M588.50 393.5H590.00M597.50 348.6V363.8M596.00 353.5H597.50M597.50 360.5H599.00M598.50 350.5V363.3M597.00 351.5H598.50M598.50 359.5H600.00M605.50 334.2V344.8M604.00 335.5H605.50M605.50 343.5H607.00M607.50 340.1V352.9M606.00 341.5H607.50M607.50 348.5H609.00M608.50 346.4V358.5M607.00 351.5H608.50M608.50 357.5H610.00M611.50 347.2V360.1M610.00 350.5H611.50M611.50 355.5H613.00M612.50 347.1V360.2M611.00 349.5H612.50M612.50 358.5H614.00M614.50 347.2V359.0M613.00 350.5H614.50M614.50 356.5H616.00M615.50 345.6V359.6M614.00 349.5H615.50M615.50 356.5H617.00M617.50 351.3V362.2M616.00 353.5H617.50M617.50 359.5H619.00M618.50 353.3V369.0M617.00 358.5H618.50M618.50 367.5H620.00M619.50 351.8V374.1M618.00 356.5H619.50M619.50 372.5H621.00M621.50 353.3V385.4M620.00 366.5H621.50M621.50 375.5H623.00M622.50 379.8V401.9M621.00 384.5H622.50M622.50 397.5H624.00M624.50 379.7V400.5M623.00 385.5H624.50M624.50 397.5H626.00M632.50 372.8V391.9M631.00 379.5H632.50M632.50 387.5H634.00M641.50 366.9V378.6M640.00 368.5H641.50M641.50 375.5H643.00M642.50 370.7V382.7M641.00 372.5H642.50M642.50 380.5H644.00M644.50 371.2V386.3M643.00 376.5H644.50M644.50 383.5H646.00M645.50 376.0V388.3M644.00 378.5H645.50M645.50 386.5H647.00M647.50 380.0V390.3M646.00 380.5H647.50M647.50 388.5H649.00M651.50 375.3V394.8M650.00 377.5H651.50M651.50 389.5H653.00M652.50 385.2V403.0M651.00 386.5H652.50M652.50 399.5H654.00M654.50 397.0V412.5M653.00 399.5H654.50M654.50 408.5H656.00M655.50 409.2V426.4M654.00 415.5H655.50M655.50 422.5H657.00M657.50 421.0V437.6M656.00 425.5H657.50M657.50 435.5H659.00M658.50 427.5V439.2M657.00 429.5H658.50M658.50 436.5H660.00M677.50 401.0V411.7M676.00 404.5H677.50M677.50 410.5H679.00M678.50 405.6V416.8M677.00 406.5H678.50M678.50 413.5H680.00M690.50 412.9V427.0M689.00 416.5H690.50M690.50 422.5H692.00M691.50 425.5V444.3M690.00 426.5H691.50M691.50 441.5H693.00M692.50 433.2V450.1M691.00 434.5H692.50M692.50 445.5H694.00M694.50 437.8V454.6M693.00 441.5H694.50M694.50 451.5H696.00M695.50 442.5V457.5M694.00 447.5H695.50M695.50 456.5H697.00M697.50 444.3V460.0M696.00 448.5H697.50M697.50 455.5H699.00M698.50 446.8V458.6M697.00 449.5H698.50M698.50 455.5H700.00M704.50 437.5V453.3M703.00 442.5H704.50M704.50 452.5H706.00M708.50 424.4V443.0M707.00 429.5H708.50M708.50 440.5H710.00M712.50 415.2V425.7M711.00 418.5H712.50M712.50 424.5H714.00M717.50 414.2V427.4M716.00 419.5H717.50M717.50 422.5H719.00M722.50 413.9V427.2M721.00 418.5H722.50M722.50 424.5H724.00M725.50 410.4V424.4M724.00 415.5H725.50M725.50 422.5H727.00M727.50 408.6V424.3M726.00 411.5H727.50M727.50 422.5H729.00M728.50 413.9V429.9M727.00 420.5H728.50M728.50 424.5H730.00M730.50 426.5V436.2M729.00 429.5H730.50M730.50 433.5H732.00M731.50 429.5V443.0M730.00 431.5H731.50M731.50 439.5H733.00M732.50 436.2V447.9M731.00 437.5H732.50M732.50 446.5H734.00" stroke="#ef5350" stroke-width="1" shape-rendering="crispEdges" fill="none"/>
<text x="428.4" y="241.0" font-size="17" fill="#e8646f" stroke="#e8646f" stroke-width="0" text-anchor="middle" dominant-baseline="central" font-weight="normal">B</text><text x="556" y="286.5" font-size="17" fill="#e8646f" stroke="#e8646f" stroke-width="0" text-anchor="middle" dominant-baseline="central" font-weight="normal">D</text><text x="508" y="500.5" font-size="17" fill="#e8747c" stroke="#e8747c" stroke-width="0" text-anchor="middle" dominant-baseline="central" font-weight="normal">C</text><text x="311" y="557.5" font-size="17" fill="#e8646f" stroke="#e8646f" stroke-width="0" text-anchor="middle" dominant-baseline="central" font-weight="normal">A</text><text textLength="8" lengthAdjust="spacingAndGlyphs" x="703.7" y="504.4" font-size="17" fill="#e8505f" stroke="#e8505f" stroke-width="0.3" text-anchor="middle" dominant-baseline="central" font-weight="normal">E</text><text x="702" y="520.4" font-size="18" fill="#4f6fe0" stroke="#4f6fe0" stroke-width="0.25" text-anchor="middle" dominant-baseline="central" font-weight="normal">(4)</text><text x="928" y="126.8" font-size="18" fill="#4f6fe0" stroke="#4f6fe0" stroke-width="0.25" text-anchor="middle" dominant-baseline="central" font-weight="normal">(5)</text><text x="5.4" y="174.0" font-size="18" fill="#3a4fd8" stroke="#3a4fd8" stroke-width="0.25" text-anchor="end" dominant-baseline="central" font-weight="normal">)</text><g opacity="0.95"><circle cx="604" cy="308" r="10.5" fill="none" stroke="#55b3a2" stroke-width="1.0"/><text x="604" y="307" font-size="16" fill="#55b3a2" stroke="#55b3a2" stroke-width="0" text-anchor="middle" dominant-baseline="central">x</text></g><g opacity="0.9"><circle cx="591" cy="422" r="10.5" fill="none" stroke="#6bbfb0" stroke-width="1.0"/><text x="591" y="421" font-size="16" fill="#6bbfb0" stroke="#6bbfb0" stroke-width="0" text-anchor="middle" dominant-baseline="central">w</text></g><g opacity="1"><circle cx="727.4" cy="388" r="11" fill="none" stroke="#2e9f8c" stroke-width="1.3"/><text x="727.4" y="388" font-size="17" fill="#2e9f8c" stroke="#2e9f8c" stroke-width="0.3" text-anchor="middle" dominant-baseline="central">i</text></g><g opacity="1"><circle cx="734.7" cy="465.5" r="11" fill="none" stroke="#2e9f8c" stroke-width="1.3"/><text x="734.7" y="465.5" font-size="17" fill="#2e9f8c" stroke="#2e9f8c" stroke-width="0.3" text-anchor="middle" dominant-baseline="central">ii</text></g><g opacity="1"><circle cx="703.6" cy="484.4" r="10.8" fill="none" stroke="#4db39f" stroke-width="1.0"/><text x="703.6" y="482.4" font-size="17" fill="#4db39f" stroke="#4db39f" stroke-width="0.15" text-anchor="middle" dominant-baseline="central">y</text></g><g transform="translate(742.5,690.4)"><circle r="9.7" fill="#fff" stroke="#9c27b0" stroke-width="1.3"/><path d="M3.4 -5.4L-3.9 0.4H0.1L-3.1 5.4L3.9 -0.6H0.2Z" fill="#9c27b0"/></g>
</g>
<defs><clipPath id="mainclip"><rect x="0" y="44" width="1064" height="659"/></clipPath></defs>
<defs><clipPath id="cpos"><rect x="0" y="704" width="1064" height="70.79999999999995"/></clipPath><clipPath id="cneg"><rect x="0" y="774.8" width="1064" height="70"/></clipPath></defs><path d="M0.8 774.8L0.8 754.6L3.4 754.6L5.9 774.0L8.4 785.8L11.4 795.8L15.1 787.4L17.7 795.8L21.0 800.9L24.4 802.6L28.6 796.7L31.9 802.6L35.3 806.8L39.0 809.3L41.2 807.6L44.6 800.9L47.1 814.3L49.6 823.6L53.8 825.8L57.2 819.4L59.2 820.2L62.2 814.3L64.7 800.9L67.3 785.8L69.8 779.0L72.3 776.5L74.8 779.9L76.5 774.0L79.0 764.7L82.4 762.2L84.9 759.7L87.4 763.1L90.0 770.6L91.6 782.4L93.3 789.1L95.8 777.3L98.4 770.6L101.7 763.1L105.1 753.8L109.3 753.5L113.0 751.8L116.0 757.2L119.4 762.2L122.8 770.6L126.1 782.4L129.1 788.3L132.0 780.7L134.5 768.9L137.0 762.6L139.6 762.2L142.1 767.3L144.9 770.6L147.1 774.0L150.5 765.6L153.9 762.2L157.2 757.2L160.6 747.1L165.1 740.0L168.2 742.9L172.4 749.6L175.7 748.8L179.9 755.5L183.3 767.3L185.0 777.3L188.4 781.6L192.6 782.4L195.9 790.8L199.3 785.8L202.7 782.4L205.2 774.0L208.2 766.4L210.2 770.6L211.9 779.0L216.1 794.2L219.5 782.4L222.0 789.1L224.5 795.8L227.0 796.7L232.1 792.5L235.4 782.4L238.0 770.6L240.0 767.3L242.2 774.0L246.4 779.0L249.7 787.4L253.9 792.5L258.1 784.1L262.3 778.2L266.6 787.4L269.1 804.3L272.4 824.1L275.0 816.0L277.5 805.9L280.0 804.3L282.0 807.6L284.2 802.6L286.7 800.9L289.3 802.6L292.6 798.4L296.0 794.2L300.2 784.1L302.7 790.8L306.1 799.2L309.4 803.4L313.6 802.6L317.0 792.5L320.4 782.4L323.7 774.0L327.9 773.1L330.5 770.6L333.0 757.2L336.3 743.7L339.7 739.5L343.9 747.1L347.3 741.2L350.1 738.7L353.2 739.5L356.5 741.2L359.9 740.4L363.2 744.6L367.4 748.8L370.0 746.2L372.5 747.1L375.9 754.6L379.2 758.0L381.8 768.9L384.3 779.0L386.8 785.8L390.2 788.3L392.4 790.8L395.2 784.1L397.7 774.0L400.3 763.9L402.8 757.2L404.5 749.6L407.8 745.1L412.0 745.4L414.6 750.4L417.9 753.8L421.3 750.4L424.6 747.1L427.2 745.4L429.2 752.1L431.4 762.2L433.9 769.8L436.4 770.6L438.9 776.5L442.3 781.6L445.7 782.4L448.2 785.8L450.4 789.1L453.2 784.1L455.8 777.3L458.3 778.2L461.6 776.5L464.2 782.4L467.5 794.2L470.9 805.9L472.9 811.0L475.1 804.3L478.5 795.8L481.0 792.5L485.2 785.8L487.7 783.2L490.2 784.9L492.8 782.4L495.3 775.7L497.8 772.3L500.3 779.0L503.7 794.2L506.2 805.1L508.7 790.8L511.2 770.6L513.8 757.2L516.0 758.9L518.0 765.6L520.5 763.1L523.0 762.6L525.5 768.9L528.1 779.0L530.6 787.4L533.1 784.1L535.6 775.7L538.2 772.3L541.5 762.2L544.5 753.5L547.4 757.2L549.9 758.9L551.9 753.8L555.0 756.3L555.0 758.0L557.5 764.7L560.0 771.5L562.6 772.3L565.1 777.3L567.6 771.5L569.8 769.8L571.8 774.0L573.5 776.5L576.9 776.5L580.2 779.0L583.6 785.8L586.9 791.6L589.5 793.3L592.0 787.4L594.5 777.3L597.0 774.8L599.6 770.6L602.1 763.9L604.6 763.1L607.1 766.4L609.6 773.1L613.0 774.0L615.5 773.1L618.1 777.3L620.6 784.1L623.1 792.5L625.6 791.6L629.0 785.8L632.3 783.2L635.7 777.3L639.1 774.8L641.6 776.5L645.0 779.0L647.5 782.4L650.8 782.4L653.4 787.4L655.9 795.8L658.4 799.2L660.6 800.9L663.5 797.5L666.0 792.5L668.5 785.8L671.0 780.7L673.5 776.5L675.7 773.1L678.6 774.0L681.1 779.0L683.6 777.3L687.8 775.7L690.4 780.7L693.7 789.1L697.1 791.6L699.6 793.3L703.0 787.4L705.5 785.8L708.0 777.3L710.5 770.6L713.9 766.4L716.4 768.9L718.9 769.8L721.5 768.1L724.0 767.3L726.5 768.1L729.0 774.0L731.6 779.0L733.6 784.1L735.8 782.4L738.3 777.3L740.8 774.8L742.5 771.5L742.5 774.8Z" fill="#c9e9e5" clip-path="url(#cpos)"/><path d="M0.8 774.8L0.8 754.6L3.4 754.6L5.9 774.0L8.4 785.8L11.4 795.8L15.1 787.4L17.7 795.8L21.0 800.9L24.4 802.6L28.6 796.7L31.9 802.6L35.3 806.8L39.0 809.3L41.2 807.6L44.6 800.9L47.1 814.3L49.6 823.6L53.8 825.8L57.2 819.4L59.2 820.2L62.2 814.3L64.7 800.9L67.3 785.8L69.8 779.0L72.3 776.5L74.8 779.9L76.5 774.0L79.0 764.7L82.4 762.2L84.9 759.7L87.4 763.1L90.0 770.6L91.6 782.4L93.3 789.1L95.8 777.3L98.4 770.6L101.7 763.1L105.1 753.8L109.3 753.5L113.0 751.8L116.0 757.2L119.4 762.2L122.8 770.6L126.1 782.4L129.1 788.3L132.0 780.7L134.5 768.9L137.0 762.6L139.6 762.2L142.1 767.3L144.9 770.6L147.1 774.0L150.5 765.6L153.9 762.2L157.2 757.2L160.6 747.1L165.1 740.0L168.2 742.9L172.4 749.6L175.7 748.8L179.9 755.5L183.3 767.3L185.0 777.3L188.4 781.6L192.6 782.4L195.9 790.8L199.3 785.8L202.7 782.4L205.2 774.0L208.2 766.4L210.2 770.6L211.9 779.0L216.1 794.2L219.5 782.4L222.0 789.1L224.5 795.8L227.0 796.7L232.1 792.5L235.4 782.4L238.0 770.6L240.0 767.3L242.2 774.0L246.4 779.0L249.7 787.4L253.9 792.5L258.1 784.1L262.3 778.2L266.6 787.4L269.1 804.3L272.4 824.1L275.0 816.0L277.5 805.9L280.0 804.3L282.0 807.6L284.2 802.6L286.7 800.9L289.3 802.6L292.6 798.4L296.0 794.2L300.2 784.1L302.7 790.8L306.1 799.2L309.4 803.4L313.6 802.6L317.0 792.5L320.4 782.4L323.7 774.0L327.9 773.1L330.5 770.6L333.0 757.2L336.3 743.7L339.7 739.5L343.9 747.1L347.3 741.2L350.1 738.7L353.2 739.5L356.5 741.2L359.9 740.4L363.2 744.6L367.4 748.8L370.0 746.2L372.5 747.1L375.9 754.6L379.2 758.0L381.8 768.9L384.3 779.0L386.8 785.8L390.2 788.3L392.4 790.8L395.2 784.1L397.7 774.0L400.3 763.9L402.8 757.2L404.5 749.6L407.8 745.1L412.0 745.4L414.6 750.4L417.9 753.8L421.3 750.4L424.6 747.1L427.2 745.4L429.2 752.1L431.4 762.2L433.9 769.8L436.4 770.6L438.9 776.5L442.3 781.6L445.7 782.4L448.2 785.8L450.4 789.1L453.2 784.1L455.8 777.3L458.3 778.2L461.6 776.5L464.2 782.4L467.5 794.2L470.9 805.9L472.9 811.0L475.1 804.3L478.5 795.8L481.0 792.5L485.2 785.8L487.7 783.2L490.2 784.9L492.8 782.4L495.3 775.7L497.8 772.3L500.3 779.0L503.7 794.2L506.2 805.1L508.7 790.8L511.2 770.6L513.8 757.2L516.0 758.9L518.0 765.6L520.5 763.1L523.0 762.6L525.5 768.9L528.1 779.0L530.6 787.4L533.1 784.1L535.6 775.7L538.2 772.3L541.5 762.2L544.5 753.5L547.4 757.2L549.9 758.9L551.9 753.8L555.0 756.3L555.0 758.0L557.5 764.7L560.0 771.5L562.6 772.3L565.1 777.3L567.6 771.5L569.8 769.8L571.8 774.0L573.5 776.5L576.9 776.5L580.2 779.0L583.6 785.8L586.9 791.6L589.5 793.3L592.0 787.4L594.5 777.3L597.0 774.8L599.6 770.6L602.1 763.9L604.6 763.1L607.1 766.4L609.6 773.1L613.0 774.0L615.5 773.1L618.1 777.3L620.6 784.1L623.1 792.5L625.6 791.6L629.0 785.8L632.3 783.2L635.7 777.3L639.1 774.8L641.6 776.5L645.0 779.0L647.5 782.4L650.8 782.4L653.4 787.4L655.9 795.8L658.4 799.2L660.6 800.9L663.5 797.5L666.0 792.5L668.5 785.8L671.0 780.7L673.5 776.5L675.7 773.1L678.6 774.0L681.1 779.0L683.6 777.3L687.8 775.7L690.4 780.7L693.7 789.1L697.1 791.6L699.6 793.3L703.0 787.4L705.5 785.8L708.0 777.3L710.5 770.6L713.9 766.4L716.4 768.9L718.9 769.8L721.5 768.1L724.0 767.3L726.5 768.1L729.0 774.0L731.6 779.0L733.6 784.1L735.8 782.4L738.3 777.3L740.8 774.8L742.5 771.5L742.5 774.8Z" fill="#fbd9d9" clip-path="url(#cneg)"/>
<path d="M0.5 774.8V754.6M1.5 774.8V754.6M3.5 774.8V754.6M76.5 774.8V774.8M77.5 774.8V769.5M79.5 774.8V764.6M80.5 774.8V763.6M82.5 774.8V762.5M83.5 774.8V761.2M84.5 774.8V759.7M97.5 774.8V772.3M99.5 774.8V768.8M100.5 774.8V765.6M102.5 774.8V762.2M103.5 774.8V758.3M104.5 774.8V754.4M106.5 774.8V753.7M107.5 774.8V753.6M109.5 774.8V753.5M110.5 774.8V752.9M112.5 774.8V752.2M133.5 774.8V773.8M134.5 774.8V767.9M136.5 774.8V764.3M137.5 774.8V762.5M139.5 774.8V762.3M147.5 774.8V772.3M149.5 774.8V768.8M150.5 774.8V765.4M152.5 774.8V764.0M153.5 774.8V762.6M154.5 774.8V760.6M156.5 774.8V758.4M157.5 774.8V755.4M159.5 774.8V751.1M160.5 774.8V747.0M162.5 774.8V744.7M163.5 774.8V742.5M164.5 774.8V740.3M174.5 774.8V749.0M204.5 774.8V774.6M206.5 774.8V770.9M207.5 774.8V767.3M237.5 774.8V771.0M239.5 774.8V768.4M323.5 774.8V774.1M325.5 774.8V773.7M326.5 774.8V773.4M327.5 774.8V773.1M329.5 774.8V771.7M330.5 774.8V768.6M332.5 774.8V761.0M333.5 774.8V754.3M335.5 774.8V748.6M336.5 774.8V743.5M337.5 774.8V741.7M339.5 774.8V739.9M345.5 774.8V744.9M346.5 774.8V742.4M347.5 774.8V740.6M349.5 774.8V739.3M350.5 774.8V738.9M358.5 774.8V740.8M359.5 774.8V740.5M369.5 774.8V746.8M370.5 774.8V746.5M398.5 774.8V772.8M399.5 774.8V767.1M400.5 774.8V762.2M402.5 774.8V758.4M403.5 774.8V752.8M405.5 774.8V748.6M406.5 774.8V746.7M408.5 774.8V745.1M419.5 774.8V752.2M420.5 774.8V750.8M422.5 774.8V749.4M423.5 774.8V748.0M425.5 774.8V746.7M426.5 774.8V745.8M496.5 774.8V773.8M498.5 774.8V773.2M511.5 774.8V772.5M512.5 774.8V764.3M513.5 774.8V757.2M519.5 774.8V764.0M521.5 774.8V763.0M522.5 774.8V762.7M536.5 774.8V774.2M538.5 774.8V772.2M539.5 774.8V767.9M541.5 774.8V763.6M542.5 774.8V759.5M543.5 774.8V755.3M545.5 774.8V754.5M551.5 774.8V756.0M552.5 774.8V754.3M566.5 774.8V773.4M568.5 774.8V771.0M569.5 774.8V769.9M598.5 774.8V772.8M599.5 774.8V770.3M601.5 774.8V766.5M602.5 774.8V763.7M603.5 774.8V763.3M613.5 774.8V773.7M615.5 774.8V773.2M675.5 774.8V773.6M676.5 774.8V773.5M709.5 774.8V772.7M711.5 774.8V769.8M712.5 774.8V768.0M714.5 774.8V766.6M719.5 774.8V769.2M721.5 774.8V768.3M722.5 774.8V767.7M724.5 774.8V767.3M741.5 774.8V774.0M742.5 774.8V771.5" stroke="#26a69a" stroke-width="1" shape-rendering="crispEdges" fill="none"/><path d="M4.5 774.8V765.6M86.5 774.8V761.5M87.5 774.8V763.9M89.5 774.8V768.2M113.5 774.8V752.6M114.5 774.8V755.2M116.5 774.8V757.6M117.5 774.8V759.8M119.5 774.8V761.9M120.5 774.8V765.3M122.5 774.8V768.9M123.5 774.8V773.2M140.5 774.8V764.4M142.5 774.8V767.2M143.5 774.8V768.9M144.5 774.8V770.6M146.5 774.8V772.8M166.5 774.8V741.2M167.5 774.8V742.6M169.5 774.8V744.6M170.5 774.8V746.9M172.5 774.8V749.2M173.5 774.8V749.3M176.5 774.8V749.8M177.5 774.8V752.1M179.5 774.8V754.4M180.5 774.8V758.1M182.5 774.8V763.1M183.5 774.8V768.8M209.5 774.8V768.7M210.5 774.8V773.1M240.5 774.8V769.6M242.5 774.8V774.0M340.5 774.8V741.6M342.5 774.8V744.1M343.5 774.8V746.7M352.5 774.8V739.3M353.5 774.8V739.8M355.5 774.8V740.5M356.5 774.8V741.2M360.5 774.8V741.6M362.5 774.8V743.4M363.5 774.8V745.0M365.5 774.8V746.5M366.5 774.8V747.9M368.5 774.8V748.2M372.5 774.8V747.0M373.5 774.8V749.8M375.5 774.8V753.0M376.5 774.8V755.4M378.5 774.8V756.8M379.5 774.8V758.9M380.5 774.8V765.1M382.5 774.8V771.1M409.5 774.8V745.2M410.5 774.8V745.3M412.5 774.8V746.0M413.5 774.8V748.9M415.5 774.8V751.1M416.5 774.8V752.5M418.5 774.8V753.7M428.5 774.8V748.4M429.5 774.8V753.6M430.5 774.8V760.2M432.5 774.8V765.2M433.5 774.8V769.5M435.5 774.8V770.2M436.5 774.8V771.2M438.5 774.8V774.5M515.5 774.8V758.3M516.5 774.8V761.4M518.5 774.8V765.4M523.5 774.8V764.7M525.5 774.8V768.4M526.5 774.8V773.7M546.5 774.8V756.3M548.5 774.8V757.7M549.5 774.8V758.7M553.5 774.8V755.4M555.5 774.8V758.9M556.5 774.8V762.7M558.5 774.8V766.5M559.5 774.8V770.4M561.5 774.8V771.8M562.5 774.8V772.3M571.5 774.8V772.4M605.5 774.8V764.1M606.5 774.8V766.0M608.5 774.8V769.4M609.5 774.8V773.2M611.5 774.8V773.5M612.5 774.8V773.9M678.5 774.8V773.9M715.5 774.8V768.0M716.5 774.8V769.1M718.5 774.8V769.6M725.5 774.8V767.8M726.5 774.8V769.1M728.5 774.8V772.4" stroke="#a3d8d1" stroke-width="1" shape-rendering="crispEdges" fill="none"/><path d="M6.5 774.8V775.5M7.5 774.8V782.2M9.5 774.8V788.0M10.5 774.8V792.8M11.5 774.8V794.7M16.5 774.8V791.1M17.5 774.8V795.9M19.5 774.8V798.0M20.5 774.8V800.1M21.5 774.8V801.4M23.5 774.8V802.1M30.5 774.8V800.1M31.5 774.8V802.6M33.5 774.8V804.4M34.5 774.8V806.2M36.5 774.8V807.4M37.5 774.8V808.4M39.5 774.8V809.2M46.5 774.8V810.0M47.5 774.8V816.6M49.5 774.8V821.8M50.5 774.8V824.1M51.5 774.8V824.8M53.5 774.8V825.6M59.5 774.8V820.2M73.5 774.8V778.0M74.5 774.8V779.8M90.5 774.8V775.0M92.5 774.8V783.9M93.5 774.8V788.5M124.5 774.8V778.2M126.5 774.8V782.8M127.5 774.8V785.6M129.5 774.8V788.1M184.5 774.8V777.2M186.5 774.8V779.1M187.5 774.8V780.9M189.5 774.8V781.7M190.5 774.8V782.0M192.5 774.8V782.3M193.5 774.8V784.9M194.5 774.8V788.4M196.5 774.8V790.1M212.5 774.8V779.9M213.5 774.8V785.0M215.5 774.8V790.2M216.5 774.8V793.0M220.5 774.8V785.7M222.5 774.8V789.5M223.5 774.8V793.4M225.5 774.8V796.0M226.5 774.8V796.5M243.5 774.8V775.7M245.5 774.8V777.4M246.5 774.8V779.2M247.5 774.8V782.8M249.5 774.8V786.4M250.5 774.8V788.7M252.5 774.8V790.4M253.5 774.8V792.1M263.5 774.8V781.0M265.5 774.8V784.1M266.5 774.8V787.3M267.5 774.8V796.5M269.5 774.8V805.8M270.5 774.8V814.2M272.5 774.8V822.7M280.5 774.8V805.5M282.5 774.8V807.2M287.5 774.8V801.7M289.5 774.8V802.4M302.5 774.8V789.5M303.5 774.8V793.2M305.5 774.8V796.8M306.5 774.8V799.8M307.5 774.8V801.6M309.5 774.8V803.3M383.5 774.8V776.8M385.5 774.8V781.4M386.5 774.8V785.2M388.5 774.8V786.7M389.5 774.8V787.7M390.5 774.8V789.1M392.5 774.8V790.8M439.5 774.8V777.4M440.5 774.8V779.5M442.5 774.8V781.6M443.5 774.8V781.9M445.5 774.8V782.3M446.5 774.8V783.7M448.5 774.8V785.6M449.5 774.8V787.8M450.5 774.8V788.1M458.5 774.8V778.1M462.5 774.8V778.3M463.5 774.8V781.6M465.5 774.8V786.2M466.5 774.8V791.2M468.5 774.8V796.2M469.5 774.8V801.2M470.5 774.8V806.1M472.5 774.8V809.7M489.5 774.8V784.5M499.5 774.8V777.0M501.5 774.8V782.1M502.5 774.8V788.5M503.5 774.8V794.9M505.5 774.8V801.1M506.5 774.8V802.2M528.5 774.8V779.4M529.5 774.8V784.2M531.5 774.8V786.8M563.5 774.8V775.0M565.5 774.8V776.7M572.5 774.8V775.0M573.5 774.8V776.5M575.5 774.8V776.5M576.5 774.8V776.5M578.5 774.8V777.5M579.5 774.8V778.6M581.5 774.8V780.7M582.5 774.8V783.6M583.5 774.8V786.4M585.5 774.8V788.9M586.5 774.8V791.4M588.5 774.8V792.5M589.5 774.8V792.9M616.5 774.8V775.3M618.5 774.8V777.9M619.5 774.8V781.7M621.5 774.8V785.9M622.5 774.8V790.6M623.5 774.8V792.2M641.5 774.8V776.2M642.5 774.8V777.2M644.5 774.8V778.3M645.5 774.8V779.7M646.5 774.8V781.6M648.5 774.8V782.4M649.5 774.8V782.4M651.5 774.8V783.0M652.5 774.8V785.9M654.5 774.8V789.6M655.5 774.8V794.3M656.5 774.8V797.2M658.5 774.8V799.1M659.5 774.8V800.2M661.5 774.8V800.2M679.5 774.8V776.3M681.5 774.8V779.0M688.5 774.8V776.6M689.5 774.8V779.5M691.5 774.8V782.8M692.5 774.8V786.4M694.5 774.8V789.4M695.5 774.8V790.4M696.5 774.8V791.5M698.5 774.8V792.5M699.5 774.8V793.0M729.5 774.8V775.5M731.5 774.8V778.4M732.5 774.8V781.8M734.5 774.8V783.7" stroke="#ef5350" stroke-width="1" shape-rendering="crispEdges" fill="none"/><path d="M13.5 774.8V791.4M14.5 774.8V788.2M24.5 774.8V802.0M26.5 774.8V800.0M27.5 774.8V798.0M29.5 774.8V797.6M40.5 774.8V808.1M41.5 774.8V806.1M43.5 774.8V803.2M44.5 774.8V802.3M54.5 774.8V823.8M56.5 774.8V821.1M57.5 774.8V819.6M60.5 774.8V817.6M61.5 774.8V814.8M63.5 774.8V807.9M64.5 774.8V800.2M66.5 774.8V791.6M67.5 774.8V784.6M69.5 774.8V780.7M70.5 774.8V778.2M72.5 774.8V776.8M94.5 774.8V781.9M96.5 774.8V776.1M130.5 774.8V784.3M132.5 774.8V780.4M197.5 774.8V787.9M199.5 774.8V785.8M200.5 774.8V784.4M202.5 774.8V782.9M203.5 774.8V779.4M217.5 774.8V788.0M219.5 774.8V783.0M227.5 774.8V796.0M229.5 774.8V794.8M230.5 774.8V793.6M232.5 774.8V792.3M233.5 774.8V788.0M235.5 774.8V783.7M236.5 774.8V777.7M255.5 774.8V790.3M256.5 774.8V787.4M257.5 774.8V784.6M259.5 774.8V782.4M260.5 774.8V780.4M262.5 774.8V778.4M273.5 774.8V820.3M275.5 774.8V815.6M276.5 774.8V809.9M277.5 774.8V805.6M279.5 774.8V804.7M283.5 774.8V803.9M285.5 774.8V802.0M286.5 774.8V801.0M290.5 774.8V800.7M292.5 774.8V798.9M293.5 774.8V797.1M295.5 774.8V795.3M296.5 774.8V792.9M297.5 774.8V789.5M299.5 774.8V786.0M300.5 774.8V785.7M310.5 774.8V803.1M312.5 774.8V802.9M313.5 774.8V802.5M315.5 774.8V798.2M316.5 774.8V793.9M317.5 774.8V789.6M319.5 774.8V785.3M320.5 774.8V781.3M322.5 774.8V777.7M393.5 774.8V787.5M395.5 774.8V784.2M396.5 774.8V778.5M452.5 774.8V785.6M453.5 774.8V782.5M455.5 774.8V778.7M456.5 774.8V777.7M459.5 774.8V777.6M460.5 774.8V776.9M473.5 774.8V808.1M475.5 774.8V803.8M476.5 774.8V800.3M478.5 774.8V796.7M479.5 774.8V794.4M480.5 774.8V792.5M482.5 774.8V790.2M483.5 774.8V787.9M485.5 774.8V785.7M486.5 774.8V784.2M488.5 774.8V783.5M490.5 774.8V784.2M492.5 774.8V782.7M493.5 774.8V779.5M495.5 774.8V775.7M508.5 774.8V794.1M509.5 774.8V784.0M532.5 774.8V784.9M533.5 774.8V781.5M535.5 774.8V776.7M591.5 774.8V789.5M592.5 774.8V785.3M593.5 774.8V779.6M595.5 774.8V776.5M596.5 774.8V775.1M625.5 774.8V791.7M626.5 774.8V789.5M628.5 774.8V787.0M629.5 774.8V785.2M631.5 774.8V784.2M632.5 774.8V782.9M633.5 774.8V780.4M635.5 774.8V777.9M636.5 774.8V776.5M638.5 774.8V775.4M639.5 774.8V775.3M662.5 774.8V798.5M664.5 774.8V796.4M665.5 774.8V793.5M666.5 774.8V790.1M668.5 774.8V786.3M669.5 774.8V783.3M671.5 774.8V780.5M672.5 774.8V778.1M674.5 774.8V775.8M682.5 774.8V778.0M684.5 774.8V777.2M685.5 774.8V776.6M686.5 774.8V776.0M701.5 774.8V790.5M702.5 774.8V788.0M704.5 774.8V786.7M705.5 774.8V785.8M706.5 774.8V781.0M708.5 774.8V776.5M735.5 774.8V782.6M736.5 774.8V780.0M738.5 774.8V777.3M739.5 774.8V775.8" stroke="#f7b9b9" stroke-width="1" shape-rendering="crispEdges" fill="none"/>
<rect x="0.0" y="773.5" width="6.5" height="2.6" fill="#4caf50"/><rect x="6.5" y="773.5" width="70.0" height="2.6" fill="#ef5350"/><rect x="76.5" y="773.5" width="14.5" height="2.6" fill="#4caf50"/><rect x="91.0" y="773.5" width="6.0" height="2.6" fill="#ef5350"/><rect x="97.0" y="773.5" width="27.0" height="2.6" fill="#4caf50"/><rect x="124.0" y="773.5" width="9.5" height="2.6" fill="#ef5350"/><rect x="133.5" y="773.5" width="51.5" height="2.6" fill="#4caf50"/><rect x="185.0" y="773.5" width="20.0" height="2.6" fill="#ef5350"/><rect x="205.0" y="773.5" width="6.5" height="2.6" fill="#4caf50"/><rect x="211.5" y="773.5" width="26.0" height="2.6" fill="#ef5350"/><rect x="237.5" y="773.5" width="5.5" height="2.6" fill="#4caf50"/><rect x="243.0" y="773.5" width="80.5" height="2.6" fill="#ef5350"/><rect x="323.5" y="773.5" width="60.0" height="2.6" fill="#4caf50"/><rect x="383.5" y="773.5" width="14.5" height="2.6" fill="#ef5350"/><rect x="398.0" y="773.5" width="40.5" height="2.6" fill="#4caf50"/><rect x="438.5" y="773.5" width="57.5" height="2.6" fill="#ef5350"/><rect x="496.0" y="773.5" width="3.0" height="2.6" fill="#4caf50"/><rect x="499.0" y="773.5" width="12.0" height="2.6" fill="#ef5350"/><rect x="511.0" y="773.5" width="16.5" height="2.6" fill="#4caf50"/><rect x="527.5" y="773.5" width="9.0" height="2.6" fill="#ef5350"/><rect x="536.5" y="773.5" width="27.5" height="2.6" fill="#4caf50"/><rect x="564.0" y="773.5" width="2.5" height="2.6" fill="#ef5350"/><rect x="566.5" y="773.5" width="6.0" height="2.6" fill="#4caf50"/><rect x="572.5" y="773.5" width="25.0" height="2.6" fill="#ef5350"/><rect x="597.5" y="773.5" width="19.5" height="2.6" fill="#4caf50"/><rect x="617.0" y="773.5" width="58.0" height="2.6" fill="#ef5350"/><rect x="675.0" y="773.5" width="4.0" height="2.6" fill="#4caf50"/><rect x="679.0" y="773.5" width="30.0" height="2.6" fill="#ef5350"/><rect x="709.0" y="773.5" width="20.5" height="2.6" fill="#4caf50"/><rect x="729.5" y="773.5" width="11.5" height="2.6" fill="#ef5350"/><rect x="741.0" y="773.5" width="3.0" height="2.6" fill="#4caf50"/>
<polyline fill="none" stroke="#4668e0" stroke-width="1.2" stroke-linejoin="round" points="0.8,754.6 3.4,754.6 5.9,774.0 8.4,785.8 11.4,795.8 15.1,787.4 17.7,795.8 21.0,800.9 24.4,802.6 28.6,796.7 31.9,802.6 35.3,806.8 39.0,809.3 41.2,807.6 44.6,800.9 47.1,814.3 49.6,823.6 53.8,825.8 57.2,819.4 59.2,820.2 62.2,814.3 64.7,800.9 67.3,785.8 69.8,779.0 72.3,776.5 74.8,779.9 76.5,774.0 79.0,764.7 82.4,762.2 84.9,759.7 87.4,763.1 90.0,770.6 91.6,782.4 93.3,789.1 95.8,777.3 98.4,770.6 101.7,763.1 105.1,753.8 109.3,753.5 113.0,751.8 116.0,757.2 119.4,762.2 122.8,770.6 126.1,782.4 129.1,788.3 132.0,780.7 134.5,768.9 137.0,762.6 139.6,762.2 142.1,767.3 144.9,770.6 147.1,774.0 150.5,765.6 153.9,762.2 157.2,757.2 160.6,747.1 165.1,740.0 168.2,742.9 172.4,749.6 175.7,748.8 179.9,755.5 183.3,767.3 185.0,777.3 188.4,781.6 192.6,782.4 195.9,790.8 199.3,785.8 202.7,782.4 205.2,774.0 208.2,766.4 210.2,770.6 211.9,779.0 216.1,794.2 219.5,782.4 222.0,789.1 224.5,795.8 227.0,796.7 232.1,792.5 235.4,782.4 238.0,770.6 240.0,767.3 242.2,774.0 246.4,779.0 249.7,787.4 253.9,792.5 258.1,784.1 262.3,778.2 266.6,787.4 269.1,804.3 272.4,824.1 275.0,816.0 277.5,805.9 280.0,804.3 282.0,807.6 284.2,802.6 286.7,800.9 289.3,802.6 292.6,798.4 296.0,794.2 300.2,784.1 302.7,790.8 306.1,799.2 309.4,803.4 313.6,802.6 317.0,792.5 320.4,782.4 323.7,774.0 327.9,773.1 330.5,770.6 333.0,757.2 336.3,743.7 339.7,739.5 343.9,747.1 347.3,741.2 350.1,738.7 353.2,739.5 356.5,741.2 359.9,740.4 363.2,744.6 367.4,748.8 370.0,746.2 372.5,747.1 375.9,754.6 379.2,758.0 381.8,768.9 384.3,779.0 386.8,785.8 390.2,788.3 392.4,790.8 395.2,784.1 397.7,774.0 400.3,763.9 402.8,757.2 404.5,749.6 407.8,745.1 412.0,745.4 414.6,750.4 417.9,753.8 421.3,750.4 424.6,747.1 427.2,745.4 429.2,752.1 431.4,762.2 433.9,769.8 436.4,770.6 438.9,776.5 442.3,781.6 445.7,782.4 448.2,785.8 450.4,789.1 453.2,784.1 455.8,777.3 458.3,778.2 461.6,776.5 464.2,782.4 467.5,794.2 470.9,805.9 472.9,811.0 475.1,804.3 478.5,795.8 481.0,792.5 485.2,785.8 487.7,783.2 490.2,784.9 492.8,782.4 495.3,775.7 497.8,772.3 500.3,779.0 503.7,794.2 506.2,805.1 508.7,790.8 511.2,770.6 513.8,757.2 516.0,758.9 518.0,765.6 520.5,763.1 523.0,762.6 525.5,768.9 528.1,779.0 530.6,787.4 533.1,784.1 535.6,775.7 538.2,772.3 541.5,762.2 544.5,753.5 547.4,757.2 549.9,758.9 551.9,753.8 555.0,756.3 555.0,758.0 557.5,764.7 560.0,771.5 562.6,772.3 565.1,777.3 567.6,771.5 569.8,769.8 571.8,774.0 573.5,776.5 576.9,776.5 580.2,779.0 583.6,785.8 586.9,791.6 589.5,793.3 592.0,787.4 594.5,777.3 597.0,774.8 599.6,770.6 602.1,763.9 604.6,763.1 607.1,766.4 609.6,773.1 613.0,774.0 615.5,773.1 618.1,777.3 620.6,784.1 623.1,792.5 625.6,791.6 629.0,785.8 632.3,783.2 635.7,777.3 639.1,774.8 641.6,776.5 645.0,779.0 647.5,782.4 650.8,782.4 653.4,787.4 655.9,795.8 658.4,799.2 660.6,800.9 663.5,797.5 666.0,792.5 668.5,785.8 671.0,780.7 673.5,776.5 675.7,773.1 678.6,774.0 681.1,779.0 683.6,777.3 687.8,775.7 690.4,780.7 693.7,789.1 697.1,791.6 699.6,793.3 703.0,787.4 705.5,785.8 708.0,777.3 710.5,770.6 713.9,766.4 716.4,768.9 718.9,769.8 721.5,768.1 724.0,767.3 726.5,768.1 729.0,774.0 731.6,779.0 733.6,784.1 735.8,782.4 738.3,777.3 740.8,774.8 742.5,771.5"/>

</svg>
<div style="position:absolute;left:0;top:-43.5px;width:1130px;height:872px">
<div style="position:absolute;left:1064px;top:43.5px;width:62px;height:798px;background:#fff;border-left:1px solid #e0e0e2"></div>
<div style="position:absolute;left:0;top:841px;width:1126px;height:28px;background:#fff;border-top:1px solid #e0e0e2"></div>
<div style="position:absolute;left:1064px;top:841px;width:1px;height:28px;background:#e0e0e2"></div>
<div style="position:absolute;left:0;top:702.5px;width:1126px;height:1.2px;background:#3a4aa6"></div>
<svg style="position:absolute;left:9.8px;top:50.8px" width="18" height="18" viewBox="0 0 18 18"><defs><clipPath id="fc"><circle cx="9" cy="9" r="9"/></clipPath></defs><g clip-path="url(#fc)"><rect width="18" height="18" fill="#fff"/><rect y="0" width="18" height="3.4" fill="#e35a5a"/><rect y="7" width="18" height="3.8" fill="#ee4b50"/><rect y="14.4" width="18" height="3.6" fill="#e0504f"/><rect width="10.8" height="10.8" fill="#2f74dd"/><g fill="#e6f6ff"><circle cx="2.8" cy="2.6" r=".85"/><circle cx="5.6" cy="2.6" r=".85"/><circle cx="8.4" cy="2.6" r=".85"/><circle cx="2.8" cy="5.4" r=".85"/><circle cx="5.6" cy="5.4" r=".85"/><circle cx="8.4" cy="5.4" r=".85"/><circle cx="2.8" cy="8.2" r=".85"/><circle cx="5.6" cy="8.2" r=".85"/><circle cx="8.4" cy="8.2" r=".85"/></g></g></svg>
<span class="tx" style="position:absolute;left:32.6px;top:51.5px;font-size:14.3px;line-height:19px;color:#131722;font-weight:normal;white-space:nowrap;-webkit-text-stroke:0.3px;transform-origin:0 50%;transform:scaleX(1.0922);">Rendimento</span>
 
<span class="tx" style="position:absolute;left:123.2px;top:51.5px;font-size:14.3px;line-height:19px;color:#131722;font-weight:normal;white-space:nowrap;-webkit-text-stroke:0.3px;transform-origin:0 50%;transform:scaleX(1.2973);">titoli</span>
 
<span class="tx" style="position:absolute;left:162.7px;top:51.5px;font-size:14.3px;line-height:19px;color:#131722;font-weight:normal;white-space:nowrap;-webkit-text-stroke:0.3px;transform-origin:0 50%;transform:scaleX(1.0861);">di</span>
 
<span class="tx" style="position:absolute;left:180.8px;top:51.5px;font-size:14.3px;line-height:19px;color:#131722;font-weight:normal;white-space:nowrap;-webkit-text-stroke:0.3px;transform-origin:0 50%;transform:scaleX(1.1258);">stato</span>
 
<span class="tx" style="position:absolute;left:222px;top:51.5px;font-size:14.3px;line-height:19px;color:#131722;font-weight:normal;white-space:nowrap;-webkit-text-stroke:0.3px;transform-origin:0 50%;transform:scaleX(1.0871);">Stati</span>
 
<span class="tx" style="position:absolute;left:260.5px;top:51.5px;font-size:14.3px;line-height:19px;color:#131722;font-weight:normal;white-space:nowrap;-webkit-text-stroke:0.3px;transform-origin:0 50%;transform:scaleX(1.1045);">Uniti</span>
 
<span class="tx" style="position:absolute;left:300.1px;top:51.5px;font-size:14.3px;line-height:19px;color:#131722;font-weight:normal;white-space:nowrap;-webkit-text-stroke:0.3px;transform-origin:0 50%;transform:scaleX(0.899);">10</span>
 
<span class="tx" style="position:absolute;left:320.9px;top:51.5px;font-size:14.3px;line-height:19px;color:#131722;font-weight:normal;white-space:nowrap;-webkit-text-stroke:0.3px;transform-origin:0 50%;transform:scaleX(1.0654);">anni</span>
 
<span class="tx"  style="position:absolute;left:354.1px;top:51.5px;font-size:14.3px;line-height:19px;color:#131722;font-weight:bold;white-space:nowrap;">·</span>
 
<span class="tx" style="position:absolute;left:364.6px;top:51.5px;font-size:14.3px;line-height:19px;color:#131722;font-weight:normal;white-space:nowrap;-webkit-text-stroke:0.3px;transform-origin:0 50%;transform:scaleX(0.815);">1D</span>
 
<span class="tx"  style="position:absolute;left:384.40000000000003px;top:51.5px;font-size:14.3px;line-height:19px;color:#131722;font-weight:bold;white-space:nowrap;">·</span>
 
<span class="tx" style="position:absolute;left:394.3px;top:51.5px;font-size:14.3px;line-height:19px;color:#131722;font-weight:normal;white-space:nowrap;-webkit-text-stroke:0.3px;transform-origin:0 50%;transform:scaleX(0.9123);">TVC</span>
 
<div style="position:absolute;left:428.6px;top:51px;width:18px;height:18px;border-radius:9px;background:#ececee"></div><div style="position:absolute;left:433.2px;top:58.4px;width:9px;height:3.4px;border-radius:2px;background:#9a9da6"></div>
<span class="tx" style="position:absolute;left:455.7px;top:52.5px;font-size:12.4px;line-height:16px;color:#131722;font-weight:normal;white-space:nowrap;-webkit-text-stroke:0.3px;transform-origin:0 50%;transform:scaleX(1.006);">O - Aper.</span>
<span class="tx" style="position:absolute;left:507.5px;top:52.5px;font-size:12.4px;line-height:16px;color:#26a69a;font-weight:normal;white-space:nowrap;-webkit-text-stroke:0.3px;transform-origin:0 50%;transform:scaleX(0.935);">4,100%</span>
<span class="tx" style="position:absolute;left:553.4px;top:52.5px;font-size:12.4px;line-height:16px;color:#131722;font-weight:normal;white-space:nowrap;-webkit-text-stroke:0.3px;transform-origin:0 50%;transform:scaleX(0.9741);">H - Max.</span>
<span class="tx" style="position:absolute;left:603px;top:52.5px;font-size:12.4px;line-height:16px;color:#26a69a;font-weight:normal;white-space:nowrap;-webkit-text-stroke:0.3px;transform-origin:0 50%;transform:scaleX(0.9279);">4,143%</span>
<span class="tx" style="position:absolute;left:648px;top:52.5px;font-size:12.4px;line-height:16px;color:#131722;font-weight:normal;white-space:nowrap;-webkit-text-stroke:0.3px;transform-origin:0 50%;transform:scaleX(1.0132);">L - Min.</span>
<span class="tx" style="position:absolute;left:693.3px;top:52.5px;font-size:12.4px;line-height:16px;color:#26a69a;font-weight:normal;white-space:nowrap;-webkit-text-stroke:0.3px;transform-origin:0 50%;transform:scaleX(0.9326);">4,088%</span>
<span class="tx" style="position:absolute;left:739px;top:52.5px;font-size:12.4px;line-height:16px;color:#131722;font-weight:normal;white-space:nowrap;-webkit-text-stroke:0.3px;transform-origin:0 50%;transform:scaleX(0.9892);">C - Chius.</span>
<span class="tx" style="position:absolute;left:796px;top:52.5px;font-size:12.4px;line-height:16px;color:#26a69a;font-weight:normal;white-space:nowrap;-webkit-text-stroke:0.3px;transform-origin:0 50%;transform:scaleX(0.9398);">4,139%</span>
<span class="tx" style="position:absolute;left:842.5px;top:52.5px;font-size:12.4px;line-height:16px;color:#26a69a;font-weight:normal;white-space:nowrap;-webkit-text-stroke:0.3px;transform-origin:0 50%;transform:scaleX(0.9804);">+0,039</span>
<span class="tx" style="position:absolute;left:885px;top:52.5px;font-size:12.4px;line-height:16px;color:#26a69a;font-weight:normal;white-space:nowrap;-webkit-text-stroke:0.3px;transform-origin:0 50%;transform:scaleX(0.9679);">(+0,95%)</span>
<div style="position:absolute;left:9.3px;top:76.3px;width:54.8px;height:33.6px;border:1px solid #f0535f;border-radius:5.5px;background:#fff"></div>
<div style="position:absolute;left:109.2px;top:76.3px;width:66px;height:33.6px;border:1px solid #4a6ee6;border-radius:5.5px;background:#fff"></div>
<span class="tx" style="position:absolute;left:19.7px;top:76.6px;font-size:13.5px;line-height:18px;color:#e8414f;font-weight:bold;white-space:nowrap;transform-origin:0 50%;transform:scaleX(0.9616);">4,178</span>
<span class="tx" style="position:absolute;left:21px;top:93.4px;font-size:10.5px;line-height:14px;color:#e8414f;font-weight:normal;white-space:nowrap;-webkit-text-stroke:0.3px;transform-origin:0 50%;transform:scaleX(0.9348);">VENDI</span>
<span class="tx" style="position:absolute;left:72px;top:86.2px;font-size:10.5px;line-height:14px;color:#131722;font-weight:normal;white-space:nowrap;-webkit-text-stroke:0.3px;transform-origin:0 50%;transform:scaleX(0.879);">−0,001</span>
<span class="tx" style="position:absolute;left:126px;top:76.6px;font-size:13.5px;line-height:18px;color:#3a62e6;font-weight:bold;white-space:nowrap;transform-origin:0 50%;transform:scaleX(0.9616);">4,177</span>
<span class="tx" style="position:absolute;left:120.5px;top:93.4px;font-size:10.5px;line-height:14px;color:#3a62e6;font-weight:normal;white-space:nowrap;-webkit-text-stroke:0.3px;transform-origin:0 50%;transform:scaleX(0.9329);">COMPRA</span>
<div style="position:absolute;left:1068.4px;top:48.4px;width:53.6px;height:25.4px;border:1px solid #ebebec;border-radius:4px;background:#fff"></div>
<span class="tx" style="position:absolute;left:1072.8px;top:54.0px;font-size:10.5px;line-height:14px;color:#131722;font-weight:normal;white-space:nowrap;-webkit-text-stroke:0.3px;transform-origin:0 50%;transform:scaleX(0.7492);">%</span>
<span class="tx" style="position:absolute;left:1073px;top:110.6px;font-size:12px;line-height:16px;color:#131722;font-weight:normal;white-space:nowrap;-webkit-text-stroke:0.3px;transform-origin:0 50%;transform:scaleX(0.8967);">5,400%</span>
<span class="tx" style="position:absolute;left:1073px;top:157.4px;font-size:12px;line-height:16px;color:#131722;font-weight:normal;white-space:nowrap;-webkit-text-stroke:0.3px;transform-origin:0 50%;transform:scaleX(0.8967);">5,200%</span>
<span class="tx" style="position:absolute;left:1073px;top:204.1px;font-size:12px;line-height:16px;color:#131722;font-weight:normal;white-space:nowrap;-webkit-text-stroke:0.3px;transform-origin:0 50%;transform:scaleX(0.8967);">5,000%</span>
<span class="tx" style="position:absolute;left:1073px;top:250.9px;font-size:12px;line-height:16px;color:#131722;font-weight:normal;white-space:nowrap;-webkit-text-stroke:0.3px;transform-origin:0 50%;transform:scaleX(0.8967);">4,800%</span>
<span class="tx" style="position:absolute;left:1073px;top:297.6px;font-size:12px;line-height:16px;color:#131722;font-weight:normal;white-space:nowrap;-webkit-text-stroke:0.3px;transform-origin:0 50%;transform:scaleX(0.8967);">4,600%</span>
<span class="tx" style="position:absolute;left:1073px;top:344.4px;font-size:12px;line-height:16px;color:#131722;font-weight:normal;white-space:nowrap;-webkit-text-stroke:0.3px;transform-origin:0 50%;transform:scaleX(0.8967);">4,400%</span>
<span class="tx" style="position:absolute;left:1073px;top:391.1px;font-size:12px;line-height:16px;color:#131722;font-weight:normal;white-space:nowrap;-webkit-text-stroke:0.3px;transform-origin:0 50%;transform:scaleX(0.8967);">4,200%</span>
<span class="tx" style="position:absolute;left:1073px;top:437.9px;font-size:12px;line-height:16px;color:#131722;font-weight:normal;white-space:nowrap;-webkit-text-stroke:0.3px;transform-origin:0 50%;transform:scaleX(0.8967);">4,000%</span>
<span class="tx" style="position:absolute;left:1073px;top:484.6px;font-size:12px;line-height:16px;color:#131722;font-weight:normal;white-space:nowrap;-webkit-text-stroke:0.3px;transform-origin:0 50%;transform:scaleX(0.8967);">3,800%</span>
<span class="tx" style="position:absolute;left:1073px;top:531.4px;font-size:12px;line-height:16px;color:#131722;font-weight:normal;white-space:nowrap;-webkit-text-stroke:0.3px;transform-origin:0 50%;transform:scaleX(0.8967);">3,600%</span>
<span class="tx" style="position:absolute;left:1073px;top:578.1px;font-size:12px;line-height:16px;color:#131722;font-weight:normal;white-space:nowrap;-webkit-text-stroke:0.3px;transform-origin:0 50%;transform:scaleX(0.8967);">3,400%</span>
<span class="tx" style="position:absolute;left:1073px;top:624.9px;font-size:12px;line-height:16px;color:#131722;font-weight:normal;white-space:nowrap;-webkit-text-stroke:0.3px;transform-origin:0 50%;transform:scaleX(0.8967);">3,200%</span>
<span class="tx" style="position:absolute;left:1073px;top:671.6px;font-size:12px;line-height:16px;color:#131722;font-weight:normal;white-space:nowrap;-webkit-text-stroke:0.3px;transform-origin:0 50%;transform:scaleX(0.8967);">3,000%</span>
<div style="position:absolute;left:1065px;top:247.4px;width:49.8px;height:16.8px;background:#f23645;border-radius:2px"></div>
<span class="tx" style="position:absolute;left:1072.5px;top:247.8px;font-size:12px;line-height:16px;color:#fff;font-weight:bold;white-space:nowrap;transform-origin:0 50%;transform:scaleX(0.9139);">4,818%</span>
<div style="position:absolute;left:1065px;top:305.3px;width:49.8px;height:16.8px;background:#f23645;border-radius:2px"></div>
<span class="tx" style="position:absolute;left:1072.5px;top:305.7px;font-size:12px;line-height:16px;color:#fff;font-weight:bold;white-space:nowrap;transform-origin:0 50%;transform:scaleX(0.9139);">4,571%</span>
<div style="position:absolute;left:1022.7px;top:406.1px;width:41.2px;height:16.8px;background:#27a69a;border-radius:2px"></div>
<span class="tx" style="position:absolute;left:1026.8px;top:406.7px;font-size:12px;line-height:16px;color:#fff;font-weight:bold;white-space:nowrap;transform-origin:0 50%;transform:scaleX(0.8546);">US10Y</span>
<div style="position:absolute;left:1064.6px;top:406.1px;width:50.4px;height:16.8px;background:#27a69a;border-radius:2px"></div>
<span class="tx" style="position:absolute;left:1072.5px;top:406.7px;font-size:12px;line-height:16px;color:#fff;font-weight:bold;white-space:nowrap;transform-origin:0 50%;transform:scaleX(0.9139);">4,139%</span>
<div style="position:absolute;left:1065px;top:443.1px;width:49.8px;height:16.8px;background:#f23645;border-radius:2px"></div>
<span class="tx" style="position:absolute;left:1072.5px;top:443.5px;font-size:12px;line-height:16px;color:#fff;font-weight:bold;white-space:nowrap;transform-origin:0 50%;transform:scaleX(0.9139);">3,981%</span>
<div style="position:absolute;left:1065px;top:535.2px;width:49.8px;height:16.8px;background:#f23645;border-radius:2px"></div>
<span class="tx" style="position:absolute;left:1072.5px;top:535.6px;font-size:12px;line-height:16px;color:#fff;font-weight:bold;white-space:nowrap;transform-origin:0 50%;transform:scaleX(0.9139);">3,587%</span>
<span class="tx" style="position:absolute;left:10.4px;top:712.6px;font-size:12.4px;line-height:16px;color:#131722;font-weight:normal;white-space:nowrap;-webkit-text-stroke:0.3px;transform-origin:0 50%;transform:scaleX(1.0397);">Disparity_Index</span>
 
<span class="tx" style="position:absolute;left:102.9px;top:712.6px;font-size:12.4px;line-height:16px;color:#131722;font-weight:normal;white-space:nowrap;-webkit-text-stroke:0.3px;transform-origin:0 50%;transform:scaleX(0.8109);">5</span>
 
<span class="tx" style="position:absolute;left:114px;top:712.6px;font-size:12.4px;line-height:16px;color:#131722;font-weight:normal;white-space:nowrap;-webkit-text-stroke:0.3px;transform-origin:0 50%;transform:scaleX(0.8698);">21</span>
 
<span class="tx" style="position:absolute;left:132px;top:712.6px;font-size:12.4px;line-height:16px;color:#131722;font-weight:normal;white-space:nowrap;-webkit-text-stroke:0.3px;transform-origin:0 50%;transform:scaleX(0.9572);">close</span>
 
<span class="tx" style="position:absolute;left:165.6px;top:712.6px;font-size:12.4px;line-height:16px;color:#131722;font-weight:normal;white-space:nowrap;-webkit-text-stroke:0.3px;transform-origin:0 50%;transform:scaleX(0.8543);">7</span>
 
<span class="tx" style="position:absolute;left:175.7px;top:712.6px;font-size:12.4px;line-height:16px;color:#131722;font-weight:normal;white-space:nowrap;-webkit-text-stroke:0.3px;transform-origin:0 50%;transform:scaleX(0.8489);">EMA</span>
 
<span class="tx" style="position:absolute;left:203.8px;top:712.6px;font-size:12.4px;line-height:16px;color:#131722;font-weight:normal;white-space:nowrap;-webkit-text-stroke:0.3px;transform-origin:0 50%;transform:scaleX(0.8526);">EMA</span>
 
<span class="tx" style="position:absolute;left:236px;top:712.6px;font-size:12.4px;line-height:16px;color:#2a9d8f;font-weight:normal;white-space:nowrap;-webkit-text-stroke:0.3px;transform-origin:0 50%;transform:scaleX(0.9279);">0,429%</span>
<span class="tx" style="position:absolute;left:282px;top:712.6px;font-size:12.4px;line-height:16px;color:#3a62e6;font-weight:normal;white-space:nowrap;-webkit-text-stroke:0.3px;transform-origin:0 50%;transform:scaleX(0.916);">0,429%</span>
<span class="tx" style="position:absolute;left:327.4px;top:712.6px;font-size:12.4px;line-height:16px;color:#4caf50;font-weight:normal;white-space:nowrap;-webkit-text-stroke:0.3px;transform-origin:0 50%;transform:scaleX(0.9279);">0,000%</span>
<span class="tx" style="position:absolute;left:1073.4px;top:729.0px;font-size:12px;line-height:16px;color:#131722;font-weight:normal;white-space:nowrap;-webkit-text-stroke:0.3px;transform-origin:0 50%;transform:scaleX(0.8845);">4,000%</span>
<span class="tx" style="position:absolute;left:1073.4px;top:803.2px;font-size:12px;line-height:16px;color:#131722;font-weight:normal;white-space:nowrap;-webkit-text-stroke:0.3px;transform-origin:0 50%;transform:scaleX(0.8802);">−4,000%</span>
<div style="position:absolute;left:1017.3px;top:746.0px;width:47.0px;height:16.9px;background:#2b63f2;border-radius:2px"></div>
<span class="tx" style="position:absolute;left:1021px;top:746.0px;font-size:12px;line-height:16px;color:#fff;font-weight:bold;white-space:nowrap;transform-origin:0 50%;transform:scaleX(0.8857);">Pista_C</span>
<div style="position:absolute;left:1064.6px;top:746.0px;width:50.0px;height:16.9px;background:#2b63f2;border-radius:2px"></div>
<span class="tx" style="position:absolute;left:1072.5px;top:746.0px;font-size:12px;line-height:16px;color:#fff;font-weight:bold;white-space:nowrap;transform-origin:0 50%;transform:scaleX(0.9139);">0,429%</span>
<div style="position:absolute;left:1001.2px;top:762.8px;width:63.1px;height:16.9px;background:#27a69a;border-radius:2px"></div>
<span class="tx" style="position:absolute;left:1005.5px;top:762.9px;font-size:12px;line-height:16px;color:#fff;font-weight:bold;white-space:nowrap;transform-origin:0 50%;transform:scaleX(0.9184);">Histogram</span>
<div style="position:absolute;left:1064.6px;top:762.8px;width:50.0px;height:16.9px;background:#27a69a;border-radius:2px"></div>
<span class="tx" style="position:absolute;left:1072.5px;top:762.9px;font-size:12px;line-height:16px;color:#fff;font-weight:bold;white-space:nowrap;transform-origin:0 50%;transform:scaleX(0.9139);">0,429%</span>
<div style="position:absolute;left:1009.2px;top:780.0px;width:55.1px;height:16.9px;background:#4caf50;border-radius:2px"></div>
<span class="tx" style="position:absolute;left:1013.5px;top:780.1px;font-size:12px;line-height:16px;color:#fff;font-weight:bold;white-space:nowrap;transform-origin:0 50%;transform:scaleX(0.9177);">ZeroLine</span>
<div style="position:absolute;left:1064.6px;top:780.0px;width:50.0px;height:16.9px;background:#4caf50;border-radius:2px"></div>
<span class="tx" style="position:absolute;left:1072.5px;top:780.1px;font-size:12px;line-height:16px;color:#fff;font-weight:bold;white-space:nowrap;transform-origin:0 50%;transform:scaleX(0.9139);">0,000%</span>
<span style="position:absolute;left:63.8px;top:847px;transform:translateX(-50%);font-size:12px;line-height:16px;white-space:nowrap;color:#131722;font-weight:bold">2024</span>
<span style="position:absolute;left:121.3px;top:847px;transform:translateX(-50%);font-size:12px;line-height:16px;white-space:nowrap;color:#131722;font-weight:normal">Mar</span>
<span style="position:absolute;left:180.6px;top:847px;transform:translateX(-50%);font-size:12px;line-height:16px;white-space:nowrap;color:#131722;font-weight:normal">Mag</span>
<span style="position:absolute;left:238.6px;top:847px;transform:translateX(-50%);font-size:12px;line-height:16px;white-space:nowrap;color:#131722;font-weight:normal">Lug</span>
<span style="position:absolute;left:300.7px;top:847px;transform:translateX(-50%);font-size:12px;line-height:16px;white-space:nowrap;color:#131722;font-weight:normal">Set</span>
<span style="position:absolute;left:360px;top:847px;transform:translateX(-50%);font-size:12px;line-height:16px;white-space:nowrap;color:#131722;font-weight:normal">Nov</span>
<span style="position:absolute;left:416.5px;top:847px;transform:translateX(-50%);font-size:12px;line-height:16px;white-space:nowrap;color:#131722;font-weight:bold">2025</span>
<span style="position:absolute;left:472.4px;top:847px;transform:translateX(-50%);font-size:12px;line-height:16px;white-space:nowrap;color:#131722;font-weight:normal">Mar</span>
<span style="position:absolute;left:531.9px;top:847px;transform:translateX(-50%);font-size:12px;line-height:16px;white-space:nowrap;color:#131722;font-weight:normal">Mag</span>
<span style="position:absolute;left:589.9px;top:847px;transform:translateX(-50%);font-size:12px;line-height:16px;white-space:nowrap;color:#131722;font-weight:normal">Lug</span>
<span style="position:absolute;left:650.4px;top:847px;transform:translateX(-50%);font-size:12px;line-height:16px;white-space:nowrap;color:#131722;font-weight:normal">Set</span>
<span style="position:absolute;left:711.4px;top:847px;transform:translateX(-50%);font-size:12px;line-height:16px;white-space:nowrap;color:#131722;font-weight:normal">Nov</span>
<span style="position:absolute;left:767.3px;top:847px;transform:translateX(-50%);font-size:12px;line-height:16px;white-space:nowrap;color:#131722;font-weight:bold">2026</span>
<span style="position:absolute;left:822.4px;top:847px;transform:translateX(-50%);font-size:12px;line-height:16px;white-space:nowrap;color:#131722;font-weight:normal">Mar</span>
<span style="position:absolute;left:883.4px;top:847px;transform:translateX(-50%);font-size:12px;line-height:16px;white-space:nowrap;color:#131722;font-weight:normal">Mag</span>
<span style="position:absolute;left:941.3px;top:847px;transform:translateX(-50%);font-size:12px;line-height:16px;white-space:nowrap;color:#131722;font-weight:normal">Lug</span>
<span style="position:absolute;left:1001.9px;top:847px;transform:translateX(-50%);font-size:12px;line-height:16px;white-space:nowrap;color:#131722;font-weight:normal">Set</span>
<span style="position:absolute;left:-8.3px;top:847px;font-size:12px;line-height:16px;white-space:nowrap;color:#131722">Nov</span>
<span style="position:absolute;left:1052.3px;top:847px;width:11.8px;overflow:hidden;font-size:12px;line-height:16px;white-space:nowrap;color:#131722">Nov</span>
<svg style="position:absolute;left:1085.7px;top:845.5px" width="20" height="20" viewBox="0 0 20 20" fill="none" stroke="#131722" stroke-width="1.2" stroke-linejoin="round"><path d="M6.2 3.6H13.8L17.5 10L13.8 16.4H6.2L2.5 10Z"/><circle cx="10" cy="10" r="2"/></svg>
<svg style="position:absolute;left:13px;top:812.3px" width="29.5" height="14.6" viewBox="0 4 36 18" fill="#131722"><path d="M14 22H7V11H0V4h14v18zM28 22h-8l7.5-18h8L28 22z"/><circle cx="20" cy="8" r="4"/></svg>
</div>
</div>
<div class="tstrip"></div><div class="lstrip"></div><div class="bstrip"></div>
</body>
</html>
